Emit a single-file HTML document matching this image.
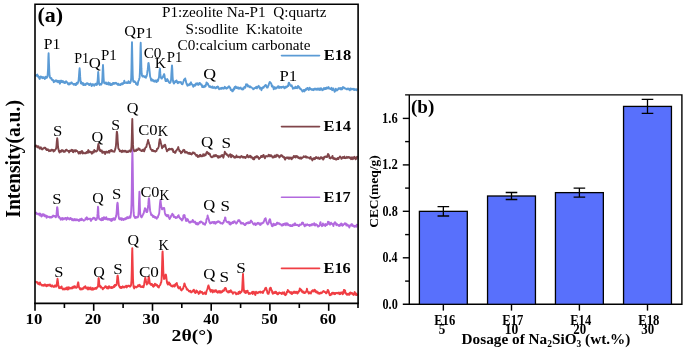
<!DOCTYPE html>
<html><head><meta charset="utf-8"><title>XRD and CEC</title>
<style>
html,body{margin:0;padding:0;background:#fff;}
body{width:685px;height:348px;overflow:hidden;font-family:"Liberation Serif",serif;}
svg{display:block;will-change:transform;opacity:0.999}
svg text{font-family:"Liberation Serif",serif;}
</style></head><body>
<svg width="685" height="348" viewBox="0 0 685 348" font-family="'Liberation Serif', serif">
<rect width="685" height="348" fill="#fff"/>
<path d="M35.5,282.4 L35.8,282.0 L36.1,281.8 L36.4,282.3 L36.7,282.4 L37.0,282.6 L37.3,282.3 L37.6,282.2 L37.9,283.9 L38.2,283.0 L38.5,284.1 L38.8,283.5 L39.1,284.2 L39.4,284.5 L39.7,284.0 L40.0,282.4 L40.3,283.4 L40.6,284.2 L40.9,284.1 L41.2,284.8 L41.5,284.8 L41.8,285.4 L42.1,285.0 L42.4,285.0 L42.7,285.5 L43.0,285.3 L43.3,284.9 L43.6,285.5 L43.9,285.8 L44.2,285.4 L44.5,284.5 L44.8,285.1 L45.1,285.4 L45.4,284.6 L45.7,285.4 L46.0,285.6 L46.3,286.2 L46.6,286.2 L46.9,285.0 L47.2,285.7 L47.5,285.5 L47.8,285.8 L48.1,284.7 L48.4,285.4 L48.7,285.4 L49.0,285.0 L49.3,285.0 L49.6,285.6 L49.9,284.5 L50.2,285.3 L50.5,286.0 L50.8,286.1 L51.1,285.6 L51.4,286.4 L51.7,285.8 L52.0,286.5 L52.3,285.3 L52.6,286.1 L52.9,286.3 L53.2,286.6 L53.5,286.6 L53.8,287.0 L54.1,286.4 L54.4,286.0 L54.7,285.6 L55.0,286.6 L55.3,285.5 L55.6,286.4 L55.9,285.7 L56.2,286.5 L56.5,286.5 L56.8,284.0 L57.1,281.7 L57.5,278.8 L57.7,280.0 L58.0,282.1 L58.3,284.7 L58.6,285.9 L58.9,287.3 L59.2,288.2 L59.5,287.7 L59.8,287.5 L60.1,287.1 L60.4,287.2 L60.7,287.1 L61.0,288.2 L61.3,287.8 L61.6,286.5 L61.9,287.6 L62.2,288.0 L62.5,288.9 L62.8,288.9 L63.1,289.5 L63.4,288.6 L63.7,288.8 L64.0,289.2 L64.3,288.9 L64.6,288.7 L64.9,289.4 L65.2,288.2 L65.5,288.3 L65.8,289.1 L66.1,288.4 L66.4,288.2 L66.7,287.6 L67.0,288.2 L67.3,289.5 L67.6,288.5 L67.9,287.5 L68.2,287.2 L68.5,289.4 L68.8,288.9 L69.1,287.8 L69.4,287.6 L69.7,288.1 L70.0,287.9 L70.3,288.3 L70.6,288.5 L70.9,288.5 L71.2,287.7 L71.5,288.3 L71.8,288.2 L72.1,288.4 L72.4,287.1 L72.7,287.7 L73.0,286.8 L73.3,287.7 L73.6,287.8 L73.9,287.3 L74.2,286.1 L74.5,286.6 L74.8,287.5 L75.1,286.3 L75.4,287.4 L75.7,287.2 L76.0,287.7 L76.3,287.7 L76.6,287.8 L76.9,287.4 L77.2,286.9 L77.5,285.2 L77.8,283.7 L78.2,282.3 L78.4,283.1 L78.7,285.3 L79.0,287.2 L79.3,287.7 L79.6,288.4 L79.9,289.0 L80.2,289.4 L80.5,288.8 L80.8,288.3 L81.1,289.2 L81.4,288.7 L81.7,288.6 L82.0,289.4 L82.3,289.0 L82.6,288.2 L82.9,288.3 L83.2,288.6 L83.5,288.8 L83.8,287.4 L84.1,286.9 L84.4,287.6 L84.7,287.2 L85.0,287.0 L85.3,286.2 L85.6,287.3 L85.9,287.4 L86.2,288.4 L86.5,287.9 L86.8,288.4 L87.1,287.6 L87.4,288.0 L87.7,287.6 L88.0,289.5 L88.3,288.9 L88.6,287.8 L88.9,287.4 L89.2,288.0 L89.5,288.3 L89.8,288.4 L90.1,289.4 L90.4,288.9 L90.7,287.5 L91.0,288.3 L91.3,289.0 L91.6,288.9 L91.9,289.8 L92.2,288.9 L92.5,289.6 L92.8,287.9 L93.1,288.9 L93.4,288.5 L93.7,289.4 L94.0,288.8 L94.3,288.6 L94.6,288.9 L94.9,288.5 L95.2,288.0 L95.5,288.7 L95.8,288.2 L96.1,288.7 L96.4,288.7 L96.7,287.4 L97.0,287.6 L97.3,287.5 L97.6,287.2 L97.9,286.0 L98.2,283.8 L98.5,278.6 L98.7,278.1 L99.1,281.4 L99.4,286.3 L99.7,286.0 L100.0,285.6 L100.3,286.6 L100.6,287.5 L100.9,286.3 L101.2,287.4 L101.5,287.3 L101.8,287.8 L102.1,287.8 L102.4,287.9 L102.7,289.4 L103.0,288.3 L103.3,288.6 L103.6,288.1 L103.9,288.3 L104.2,287.9 L104.5,287.5 L104.8,286.9 L105.1,287.2 L105.4,286.1 L105.7,287.0 L106.0,286.4 L106.3,287.6 L106.6,287.2 L106.9,288.2 L107.2,287.2 L107.5,287.1 L107.8,288.3 L108.1,288.6 L108.4,288.1 L108.7,287.7 L109.0,286.1 L109.3,287.1 L109.6,286.5 L109.9,287.1 L110.2,287.9 L110.5,287.8 L110.8,287.4 L111.1,287.3 L111.4,288.0 L111.7,287.0 L112.0,287.2 L112.3,287.9 L112.6,287.3 L112.9,287.5 L113.2,287.4 L113.5,286.9 L113.8,285.9 L114.1,286.3 L114.4,286.9 L114.7,285.0 L115.0,285.0 L115.3,285.4 L115.5,285.8 L115.9,285.1 L116.2,284.4 L116.5,284.9 L116.8,283.2 L117.1,280.1 L117.4,276.0 L117.7,275.6 L118.0,277.3 L118.3,280.3 L118.6,282.8 L118.9,285.6 L119.2,286.0 L119.5,286.6 L119.8,287.3 L120.1,287.3 L120.4,287.9 L120.7,286.8 L121.0,286.9 L121.3,287.0 L121.6,288.1 L121.9,287.5 L122.2,287.4 L122.5,287.2 L122.8,286.3 L123.1,286.9 L123.4,286.9 L123.7,287.2 L124.0,287.6 L124.3,286.7 L124.6,287.3 L124.9,286.7 L125.2,286.4 L125.5,286.9 L125.8,286.9 L126.1,285.8 L126.4,286.7 L126.7,287.4 L127.0,285.6 L127.3,286.3 L127.6,286.5 L127.9,286.3 L128.2,286.0 L128.5,286.0 L128.8,285.6 L129.1,285.9 L129.4,286.3 L129.7,285.9 L130.0,286.7 L130.3,285.6 L130.6,285.8 L130.9,285.8 L131.2,283.6 L131.5,280.3 L131.8,269.8 L132.1,254.1 L132.3,248.1 L132.7,265.8 L133.0,278.5 L133.3,284.5 L133.6,287.1 L133.9,287.7 L134.2,288.4 L134.5,287.5 L134.8,286.5 L135.1,287.2 L135.4,287.1 L135.7,287.2 L136.0,286.8 L136.3,287.4 L136.6,287.2 L136.9,286.8 L137.2,286.7 L137.5,286.7 L137.8,285.9 L138.1,285.1 L138.4,285.1 L138.7,286.2 L139.0,285.2 L139.3,285.2 L139.6,284.7 L139.9,285.4 L140.2,286.6 L140.5,286.9 L140.8,286.4 L141.1,286.4 L141.4,286.7 L141.7,286.7 L142.0,287.1 L142.3,286.6 L142.6,286.1 L142.9,286.1 L143.2,287.2 L143.5,287.3 L143.8,285.7 L144.1,285.1 L144.4,282.4 L144.7,280.7 L145.1,278.4 L145.3,277.5 L145.6,279.3 L145.9,280.8 L146.2,282.3 L146.5,282.8 L146.8,284.5 L147.0,283.8 L147.4,283.8 L147.7,283.6 L148.0,282.2 L148.3,280.0 L148.6,276.9 L148.9,276.9 L149.2,278.9 L149.5,281.1 L149.8,283.7 L150.1,283.8 L150.4,283.5 L150.7,284.9 L151.0,284.0 L151.3,284.1 L151.6,285.1 L151.9,284.0 L152.2,285.3 L152.5,285.3 L152.8,286.1 L153.1,285.0 L153.4,286.8 L153.7,285.8 L154.0,286.3 L154.3,285.1 L154.6,285.6 L154.9,283.6 L155.2,284.0 L155.5,284.7 L155.8,285.1 L156.1,285.1 L156.4,285.5 L156.7,284.6 L157.0,285.0 L157.3,285.3 L157.6,286.3 L157.9,286.9 L158.2,286.4 L158.5,286.3 L158.8,287.5 L159.1,286.2 L159.4,285.8 L159.7,285.7 L160.0,285.1 L160.3,284.8 L160.6,283.9 L160.9,282.7 L161.2,282.4 L161.5,280.1 L161.8,274.3 L162.1,264.9 L162.4,253.8 L162.6,251.4 L163.0,260.1 L163.3,270.9 L163.6,275.5 L164.0,279.0 L164.2,277.9 L164.5,278.7 L164.8,277.1 L165.1,275.7 L165.4,275.1 L165.8,274.5 L166.0,274.9 L166.3,277.0 L166.6,279.5 L166.9,281.8 L167.2,283.2 L167.5,283.6 L167.8,284.6 L168.1,283.3 L168.4,283.3 L168.7,283.2 L169.0,282.3 L169.3,282.9 L169.6,284.8 L169.9,283.4 L170.2,284.0 L170.5,284.9 L170.8,285.4 L171.1,285.9 L171.4,286.0 L171.7,286.2 L172.0,285.4 L172.3,286.1 L172.6,286.6 L172.9,286.0 L173.2,286.0 L173.5,285.5 L173.8,285.6 L174.1,285.0 L174.4,286.6 L174.7,286.4 L175.0,286.1 L175.3,284.8 L175.6,283.9 L175.9,284.0 L176.2,283.9 L176.6,283.1 L176.8,283.0 L177.1,284.8 L177.4,286.0 L177.7,285.7 L178.0,287.6 L178.3,287.6 L178.6,288.3 L178.9,288.3 L179.2,287.3 L179.5,287.7 L179.8,287.5 L180.1,287.1 L180.4,288.8 L180.7,289.8 L181.0,289.7 L181.3,289.8 L181.6,290.4 L181.9,289.5 L182.2,289.4 L182.5,288.9 L182.8,288.8 L183.1,288.8 L183.4,287.2 L183.7,286.2 L184.0,285.7 L184.3,283.7 L184.5,283.5 L184.9,284.6 L185.2,286.2 L185.5,286.2 L185.8,286.8 L186.1,287.5 L186.4,287.8 L186.7,289.2 L187.0,289.7 L187.3,289.8 L187.6,289.3 L187.9,289.9 L188.2,290.3 L188.5,290.5 L188.8,291.2 L189.1,291.1 L189.4,291.4 L189.7,291.1 L190.0,290.9 L190.3,290.7 L190.6,291.9 L190.9,291.7 L191.2,292.4 L191.5,291.9 L191.8,292.1 L192.1,291.4 L192.4,291.3 L192.7,290.8 L193.0,290.4 L193.3,290.7 L193.6,291.3 L193.9,289.8 L194.2,291.0 L194.5,291.5 L194.8,292.3 L195.1,292.7 L195.4,293.1 L195.7,292.4 L196.0,292.5 L196.3,290.5 L196.6,290.6 L196.9,290.9 L197.2,291.2 L197.5,292.2 L197.8,292.0 L198.1,292.5 L198.4,293.0 L198.7,293.9 L199.0,292.3 L199.3,293.0 L199.6,293.2 L199.9,291.3 L200.2,292.5 L200.5,291.3 L200.8,291.7 L201.1,291.7 L201.4,291.9 L201.7,292.5 L202.0,291.9 L202.3,293.1 L202.6,293.0 L202.9,294.1 L203.2,293.1 L203.5,293.7 L203.8,292.9 L204.1,292.9 L204.4,293.5 L204.7,292.5 L205.0,293.3 L205.3,293.4 L205.6,293.9 L205.9,294.2 L206.2,292.7 L206.5,291.6 L206.8,290.3 L207.1,289.7 L207.4,289.3 L207.7,287.9 L208.0,286.6 L208.3,285.7 L208.5,285.4 L208.9,286.9 L209.2,287.6 L209.5,288.3 L209.8,289.8 L210.1,289.4 L210.4,290.9 L210.7,291.8 L211.0,290.3 L211.3,290.8 L211.6,290.6 L211.9,289.9 L212.2,291.0 L212.5,291.5 L212.8,292.4 L213.1,291.8 L213.4,290.4 L213.7,291.6 L214.0,290.6 L214.3,291.6 L214.6,291.8 L214.9,291.5 L215.2,290.3 L215.5,290.3 L215.8,290.7 L216.1,290.3 L216.4,290.7 L216.7,292.0 L217.0,291.6 L217.3,292.3 L217.6,292.7 L217.9,292.6 L218.2,291.4 L218.5,291.2 L218.8,291.2 L219.1,290.9 L219.4,292.5 L219.7,292.4 L220.0,292.2 L220.3,291.1 L220.6,291.1 L220.9,292.7 L221.2,291.9 L221.5,291.7 L221.8,291.3 L222.1,291.2 L222.4,291.9 L222.7,290.6 L223.0,290.4 L223.3,291.0 L223.6,290.9 L223.9,290.4 L224.2,290.5 L224.5,288.7 L224.8,288.5 L225.1,287.9 L225.4,288.0 L225.7,288.1 L226.0,289.2 L226.3,289.9 L226.6,291.3 L226.9,291.2 L227.2,291.6 L227.5,291.5 L227.8,291.6 L228.1,292.6 L228.4,291.5 L228.7,292.0 L229.0,290.9 L229.3,292.2 L229.6,291.9 L229.9,291.9 L230.2,291.2 L230.5,290.5 L230.8,290.3 L231.1,291.7 L231.4,291.0 L231.7,292.4 L232.0,292.0 L232.3,292.4 L232.6,292.7 L232.9,293.8 L233.2,292.9 L233.5,292.7 L233.8,292.3 L234.1,292.4 L234.4,292.4 L234.7,292.3 L235.0,292.6 L235.3,292.4 L235.6,293.2 L235.9,293.7 L236.2,294.3 L236.5,293.4 L236.8,293.2 L237.1,293.9 L237.4,293.7 L237.7,293.7 L238.0,293.3 L238.3,293.9 L238.6,292.0 L238.9,293.2 L239.2,292.2 L239.5,293.4 L239.8,291.5 L240.1,293.3 L240.4,292.4 L240.7,292.4 L241.0,292.3 L241.3,292.0 L241.6,291.6 L241.9,290.9 L242.2,288.6 L242.5,282.5 L242.8,276.7 L243.0,273.9 L243.4,282.0 L243.7,288.3 L244.0,290.8 L244.3,292.0 L244.6,292.4 L244.9,291.3 L245.2,291.1 L245.5,292.6 L245.8,293.1 L246.1,292.4 L246.4,291.8 L246.7,291.0 L247.0,292.0 L247.3,292.0 L247.6,290.6 L247.9,292.5 L248.2,292.4 L248.5,293.1 L248.8,293.9 L249.1,293.5 L249.4,293.8 L249.7,293.1 L250.0,293.6 L250.3,293.7 L250.6,293.5 L250.9,293.3 L251.2,293.1 L251.5,293.1 L251.8,292.5 L252.1,291.9 L252.4,292.4 L252.7,294.0 L253.0,291.7 L253.3,292.4 L253.6,291.9 L253.9,291.8 L254.2,293.3 L254.5,292.8 L254.8,293.2 L255.1,294.7 L255.4,294.9 L255.7,292.6 L256.0,291.7 L256.3,292.2 L256.6,292.8 L256.9,292.7 L257.2,293.0 L257.5,292.8 L257.8,293.2 L258.1,292.1 L258.4,292.4 L258.7,292.5 L259.0,292.1 L259.3,292.3 L259.6,292.1 L259.9,292.0 L260.2,291.5 L260.5,292.7 L260.8,292.4 L261.1,292.2 L261.4,292.1 L261.7,292.4 L262.0,291.9 L262.3,292.0 L262.6,291.6 L262.9,293.0 L263.2,292.5 L263.5,291.2 L263.8,291.2 L264.1,290.5 L264.4,290.3 L264.7,290.0 L265.0,288.9 L265.3,288.2 L265.6,288.1 L266.0,287.7 L266.2,288.4 L266.5,289.1 L266.8,290.4 L267.1,291.2 L267.4,293.0 L267.7,293.2 L268.0,293.8 L268.3,293.0 L268.6,293.8 L268.9,292.1 L269.2,292.4 L269.5,290.5 L269.8,288.4 L270.1,288.4 L270.4,287.6 L270.7,287.6 L271.0,288.5 L271.3,290.2 L271.6,290.2 L271.9,290.3 L272.2,292.6 L272.5,292.7 L272.8,293.8 L273.1,293.3 L273.4,292.6 L273.7,293.3 L274.0,292.3 L274.3,293.0 L274.6,292.7 L274.9,293.0 L275.2,291.8 L275.5,291.9 L275.8,291.7 L276.1,291.8 L276.4,293.3 L276.7,292.7 L277.0,292.8 L277.3,294.2 L277.6,294.3 L277.9,293.9 L278.2,294.2 L278.5,293.0 L278.8,293.5 L279.1,292.5 L279.4,292.5 L279.7,292.7 L280.0,292.7 L280.3,293.1 L280.6,292.9 L280.9,292.9 L281.2,293.6 L281.5,293.4 L281.8,293.9 L282.1,293.2 L282.4,292.4 L282.7,292.7 L283.0,293.4 L283.3,293.1 L283.6,293.1 L283.9,293.8 L284.2,292.3 L284.5,293.2 L284.8,294.7 L285.1,294.9 L285.4,295.2 L285.7,294.8 L286.0,294.5 L286.3,294.4 L286.6,293.0 L286.9,291.7 L287.2,292.4 L287.5,291.5 L287.8,289.9 L288.1,290.6 L288.4,290.8 L288.7,290.9 L289.0,291.9 L289.3,291.8 L289.6,291.9 L289.9,292.3 L290.2,293.0 L290.5,293.2 L290.8,292.5 L291.1,292.0 L291.4,292.7 L291.7,293.2 L292.0,294.1 L292.3,292.8 L292.6,292.4 L292.9,292.7 L293.2,293.0 L293.5,292.0 L293.8,292.0 L294.1,291.5 L294.4,292.9 L294.7,292.6 L295.0,292.7 L295.3,292.3 L295.6,292.9 L295.9,291.8 L296.2,291.8 L296.5,292.7 L296.8,292.8 L297.1,293.2 L297.4,293.5 L297.7,292.1 L298.0,291.9 L298.3,292.7 L298.6,291.1 L298.9,291.1 L299.2,291.4 L299.5,290.3 L299.8,288.5 L300.1,289.4 L300.5,288.9 L300.7,289.8 L301.0,290.1 L301.3,290.8 L301.6,290.1 L301.9,291.4 L302.2,292.2 L302.5,292.3 L302.8,291.4 L303.1,292.6 L303.4,292.3 L303.7,291.7 L304.0,293.0 L304.3,293.0 L304.6,293.0 L304.9,292.9 L305.2,292.4 L305.5,292.7 L305.8,292.3 L306.1,291.3 L306.4,291.3 L306.7,290.7 L306.9,288.8 L307.3,290.5 L307.6,291.4 L307.9,291.5 L308.2,292.6 L308.5,292.9 L308.8,293.5 L309.1,293.4 L309.4,293.2 L309.7,292.2 L310.0,292.4 L310.3,292.7 L310.6,292.3 L310.9,293.5 L311.2,291.9 L311.5,291.5 L311.8,290.9 L312.1,291.5 L312.4,290.9 L312.7,290.2 L313.0,290.9 L313.3,291.5 L313.6,290.9 L313.9,291.2 L314.2,291.2 L314.5,289.7 L314.8,290.5 L315.1,290.1 L315.4,291.8 L315.7,292.0 L316.0,291.2 L316.3,292.5 L316.6,292.5 L316.9,291.5 L317.2,292.1 L317.5,291.9 L317.8,292.3 L318.1,293.5 L318.4,293.5 L318.7,292.8 L319.0,293.3 L319.3,292.9 L319.6,293.8 L319.9,293.7 L320.2,293.0 L320.5,292.8 L320.8,292.6 L321.1,293.3 L321.4,293.2 L321.7,292.8 L322.0,292.8 L322.3,292.1 L322.6,291.7 L322.9,291.6 L323.2,291.2 L323.5,291.0 L323.8,291.2 L324.1,291.7 L324.4,292.1 L324.7,291.7 L325.0,291.8 L325.3,292.1 L325.6,292.4 L325.9,293.2 L326.2,292.9 L326.5,293.3 L326.8,292.4 L327.1,291.4 L327.4,291.9 L327.7,289.9 L328.0,289.9 L328.2,290.6 L328.6,291.1 L328.9,292.0 L329.2,293.9 L329.5,294.0 L329.8,295.2 L330.1,295.3 L330.4,295.1 L330.7,294.3 L331.0,294.1 L331.3,293.7 L331.6,294.6 L331.9,292.9 L332.2,293.7 L332.5,292.7 L332.8,293.3 L333.1,292.9 L333.4,292.7 L333.7,292.9 L334.0,294.1 L334.3,293.8 L334.6,293.1 L334.9,294.2 L335.2,294.1 L335.5,292.9 L335.8,292.9 L336.1,293.0 L336.4,292.9 L336.7,293.2 L337.0,292.8 L337.3,292.9 L337.6,293.4 L337.9,293.4 L338.2,292.7 L338.5,293.6 L338.8,292.9 L339.1,292.6 L339.4,293.1 L339.7,294.2 L340.0,293.2 L340.3,294.1 L340.6,293.4 L340.9,292.6 L341.2,292.4 L341.5,292.7 L341.8,293.1 L342.1,293.5 L342.4,292.3 L342.7,294.3 L343.0,293.0 L343.3,293.5 L343.6,291.8 L343.9,290.0 L344.3,289.9 L344.5,291.0 L344.8,290.5 L345.1,290.4 L345.4,293.0 L345.7,293.6 L346.0,293.1 L346.3,294.0 L346.6,293.5 L346.9,294.9 L347.2,294.8 L347.5,294.7 L347.8,294.1 L348.1,293.8 L348.4,293.8 L348.7,294.6 L349.0,294.9 L349.3,294.8 L349.6,293.6 L349.9,292.7 L350.2,293.9 L350.5,292.4 L350.8,293.2 L351.1,293.2 L351.4,293.6 L351.7,292.9 L352.0,293.0 L352.3,293.8 L352.6,294.2 L352.9,294.1 L353.2,294.1 L353.5,294.9 L353.8,293.7 L354.1,293.2 L354.4,292.6 L354.7,292.0 L355.0,292.7 L355.3,294.7 L355.6,293.6 L355.9,293.5 L356.2,294.3 L356.5,294.9 L356.8,295.1 L357.1,293.7 L357.4,293.6" fill="none" stroke="#F03E44" stroke-width="1.9" stroke-linejoin="round"/>
<path d="M35.5,212.3 L35.8,212.9 L36.1,212.6 L36.4,213.1 L36.7,213.9 L37.0,213.6 L37.3,213.6 L37.6,213.6 L37.9,213.8 L38.2,214.4 L38.5,214.2 L38.8,213.8 L39.1,214.6 L39.4,213.7 L39.7,213.6 L40.0,215.5 L40.3,213.8 L40.6,215.0 L40.9,214.3 L41.2,215.6 L41.5,216.5 L41.8,216.3 L42.1,215.5 L42.4,215.2 L42.7,214.1 L43.0,214.2 L43.3,215.2 L43.6,215.5 L43.9,214.5 L44.2,215.8 L44.5,215.7 L44.8,216.2 L45.1,215.2 L45.4,216.3 L45.7,216.3 L46.0,216.5 L46.3,215.7 L46.6,217.8 L46.9,217.2 L47.2,216.3 L47.5,216.3 L47.8,216.6 L48.1,216.7 L48.4,216.8 L48.7,217.1 L49.0,216.8 L49.3,216.8 L49.6,217.4 L49.9,217.6 L50.2,217.0 L50.5,217.0 L50.8,217.6 L51.1,217.0 L51.4,216.8 L51.7,217.4 L52.0,216.7 L52.3,217.0 L52.6,216.2 L52.9,215.8 L53.2,215.6 L53.5,216.2 L53.8,216.3 L54.1,215.9 L54.4,216.1 L54.7,216.2 L55.0,216.4 L55.3,216.2 L55.6,217.3 L55.9,217.3 L56.2,215.9 L56.5,214.7 L56.8,211.1 L57.1,207.3 L57.3,207.2 L57.7,209.7 L58.0,214.0 L58.3,216.8 L58.6,216.9 L58.9,217.5 L59.2,216.7 L59.5,217.7 L59.8,218.0 L60.1,218.5 L60.4,218.8 L60.7,219.7 L61.0,219.1 L61.3,218.1 L61.6,218.4 L61.9,219.4 L62.2,219.7 L62.5,219.5 L62.8,218.0 L63.1,218.6 L63.4,219.4 L63.7,219.4 L64.0,218.8 L64.3,218.5 L64.6,218.8 L64.9,218.2 L65.2,217.9 L65.5,218.5 L65.8,217.9 L66.1,218.7 L66.4,219.8 L66.7,218.6 L67.0,219.0 L67.3,218.2 L67.6,217.5 L67.9,218.5 L68.2,218.9 L68.5,218.8 L68.8,218.5 L69.1,218.8 L69.4,219.5 L69.7,218.6 L70.0,219.2 L70.3,218.0 L70.6,218.9 L70.9,218.9 L71.2,219.0 L71.5,218.5 L71.8,218.7 L72.1,220.2 L72.4,219.8 L72.7,219.3 L73.0,220.1 L73.3,220.4 L73.6,219.8 L73.9,220.1 L74.2,219.5 L74.5,219.0 L74.8,219.3 L75.1,220.4 L75.4,219.5 L75.7,219.8 L76.0,219.2 L76.3,219.3 L76.6,219.7 L76.9,220.3 L77.2,219.5 L77.5,219.7 L77.8,219.7 L78.1,219.8 L78.4,220.4 L78.7,220.0 L79.0,221.0 L79.3,220.2 L79.6,220.6 L79.9,219.3 L80.2,219.5 L80.5,219.2 L80.8,219.4 L81.1,220.2 L81.4,218.9 L81.7,218.6 L82.0,219.6 L82.3,219.8 L82.6,219.6 L82.9,219.9 L83.2,220.1 L83.5,220.6 L83.8,220.7 L84.1,220.5 L84.4,220.1 L84.7,220.2 L85.0,219.9 L85.3,219.5 L85.6,218.3 L85.9,219.4 L86.2,218.1 L86.5,218.1 L86.8,217.3 L87.1,218.6 L87.4,219.5 L87.7,218.9 L88.0,218.5 L88.3,219.1 L88.6,219.0 L88.9,218.9 L89.2,218.9 L89.5,218.8 L89.8,218.9 L90.1,218.6 L90.4,219.8 L90.7,220.3 L91.0,221.0 L91.3,220.0 L91.6,219.4 L91.9,218.9 L92.2,219.2 L92.5,219.2 L92.8,218.5 L93.1,218.0 L93.4,217.7 L93.7,217.9 L94.0,217.8 L94.3,218.6 L94.6,218.1 L94.9,218.4 L95.2,218.7 L95.5,220.0 L95.8,218.8 L96.1,219.2 L96.4,219.8 L96.7,219.2 L97.0,218.2 L97.3,216.7 L97.6,213.4 L98.0,206.8 L98.2,208.0 L98.5,214.4 L98.8,217.2 L99.1,218.3 L99.4,219.1 L99.7,219.3 L100.0,218.8 L100.3,219.6 L100.6,219.5 L100.9,220.0 L101.2,219.3 L101.5,220.3 L101.8,220.1 L102.1,217.9 L102.4,219.1 L102.7,218.5 L103.0,220.0 L103.3,218.6 L103.6,217.9 L103.9,217.2 L104.2,218.0 L104.5,218.9 L104.8,217.7 L105.1,218.7 L105.4,218.7 L105.7,218.4 L106.0,219.2 L106.3,217.3 L106.6,218.3 L106.9,218.7 L107.2,219.5 L107.5,218.8 L107.8,219.6 L108.1,219.4 L108.4,218.9 L108.7,218.8 L109.0,219.6 L109.3,219.7 L109.6,219.1 L109.9,219.4 L110.2,219.9 L110.5,219.8 L110.8,220.6 L111.1,219.0 L111.4,220.3 L111.7,221.0 L112.0,220.0 L112.3,220.2 L112.6,218.6 L112.9,219.2 L113.2,218.7 L113.5,218.3 L113.8,219.6 L114.1,219.8 L114.4,218.5 L114.7,219.1 L115.0,219.7 L115.3,218.5 L115.6,217.4 L115.9,217.1 L116.2,215.8 L116.5,214.0 L116.8,210.0 L117.1,204.9 L117.5,202.7 L117.7,203.3 L118.0,207.3 L118.3,212.6 L118.6,215.9 L118.9,218.1 L119.2,218.9 L119.5,218.4 L119.8,219.4 L120.1,219.0 L120.4,218.6 L120.7,218.7 L121.0,218.1 L121.3,219.5 L121.6,219.9 L121.9,219.0 L122.2,218.5 L122.5,219.1 L122.8,218.7 L123.1,219.6 L123.4,220.0 L123.7,219.4 L124.0,219.0 L124.3,219.2 L124.6,219.0 L124.9,219.4 L125.2,218.3 L125.5,218.9 L125.8,218.7 L126.1,218.9 L126.4,217.8 L126.7,218.2 L127.0,217.8 L127.3,217.1 L127.6,218.0 L127.9,218.3 L128.2,217.8 L128.5,217.6 L128.8,218.1 L129.1,217.5 L129.4,216.5 L129.7,217.4 L130.0,217.1 L130.3,217.7 L130.6,216.5 L130.9,213.9 L131.2,210.8 L131.5,203.9 L131.8,188.4 L132.1,163.7 L132.4,149.6 L132.7,163.6 L133.0,187.2 L133.3,204.0 L133.6,212.2 L133.9,215.9 L134.2,215.8 L134.5,216.6 L134.8,217.9 L135.1,217.4 L135.4,217.0 L135.7,217.9 L136.0,217.7 L136.3,217.3 L136.6,217.0 L136.9,217.4 L137.2,217.2 L137.5,217.0 L137.8,217.3 L138.1,216.7 L138.4,214.8 L138.7,211.1 L139.0,202.5 L139.4,191.8 L139.6,195.5 L139.9,206.9 L140.2,213.5 L140.5,214.9 L140.8,216.5 L141.1,216.8 L141.4,217.1 L141.7,217.4 L142.0,215.8 L142.3,216.1 L142.6,215.4 L142.9,214.8 L143.2,213.9 L143.5,213.8 L143.8,212.9 L144.1,211.4 L144.4,210.2 L144.7,209.2 L145.0,208.1 L145.3,208.8 L145.6,208.7 L145.9,210.3 L146.2,211.3 L146.5,212.1 L146.8,210.9 L147.1,212.0 L147.4,211.4 L147.7,209.2 L148.0,206.9 L148.3,204.4 L148.6,200.2 L148.9,198.1 L149.2,199.8 L149.5,204.0 L149.8,207.5 L150.1,210.4 L150.4,211.8 L150.7,212.8 L151.0,214.3 L151.3,215.1 L151.6,214.4 L151.9,214.7 L152.2,215.4 L152.5,215.3 L152.8,216.8 L153.1,216.5 L153.4,217.0 L153.7,216.0 L154.0,216.3 L154.3,216.6 L154.6,216.6 L154.9,217.7 L155.2,217.8 L155.5,217.1 L155.8,217.3 L156.1,217.9 L156.4,217.8 L156.7,218.7 L157.0,217.4 L157.3,217.2 L157.6,217.6 L157.9,217.3 L158.2,215.7 L158.5,215.5 L158.8,214.4 L159.1,213.8 L159.4,211.5 L159.7,207.1 L160.0,203.4 L160.4,200.2 L160.6,200.6 L160.9,203.5 L161.2,206.0 L161.5,207.6 L161.8,208.2 L162.0,209.4 L162.4,209.3 L162.7,208.3 L163.0,208.6 L163.3,208.2 L163.6,207.9 L163.9,208.2 L164.2,208.1 L164.5,210.0 L164.8,212.4 L165.1,213.5 L165.4,214.7 L165.7,214.4 L166.0,215.6 L166.3,215.2 L166.6,215.2 L166.9,216.3 L167.2,215.0 L167.5,215.5 L167.8,215.6 L168.1,216.1 L168.4,215.2 L168.7,217.3 L169.0,218.0 L169.3,218.0 L169.6,219.0 L169.9,218.5 L170.2,217.9 L170.5,217.3 L170.8,217.1 L171.1,215.8 L171.4,215.6 L171.7,214.9 L172.0,215.4 L172.3,213.6 L172.6,215.0 L172.9,214.4 L173.2,214.9 L173.5,214.9 L173.8,217.1 L174.1,216.5 L174.4,217.1 L174.7,216.8 L175.0,217.4 L175.3,217.3 L175.6,218.0 L175.9,217.1 L176.2,217.9 L176.5,217.7 L176.8,217.7 L177.1,217.1 L177.4,217.4 L177.7,216.8 L178.0,215.7 L178.4,215.6 L178.6,215.2 L178.9,216.8 L179.2,216.8 L179.5,217.6 L179.8,218.2 L180.1,218.2 L180.4,218.2 L180.7,219.3 L181.0,219.3 L181.3,219.1 L181.6,219.6 L181.9,220.5 L182.2,219.5 L182.5,219.8 L182.8,219.3 L183.1,218.3 L183.4,215.4 L183.7,216.0 L184.0,215.0 L184.3,215.2 L184.6,215.2 L184.9,216.8 L185.2,217.9 L185.5,217.9 L185.8,220.1 L186.1,221.0 L186.4,220.7 L186.7,220.2 L187.0,219.6 L187.3,219.0 L187.6,220.5 L187.9,219.5 L188.2,220.3 L188.5,221.3 L188.8,221.4 L189.1,222.0 L189.4,222.6 L189.7,221.9 L190.0,222.2 L190.3,222.5 L190.6,222.5 L190.9,221.6 L191.2,221.7 L191.5,221.5 L191.8,221.4 L192.1,221.8 L192.4,221.5 L192.7,220.0 L193.0,220.3 L193.3,221.8 L193.6,221.5 L193.9,221.9 L194.2,222.4 L194.5,222.3 L194.8,222.5 L195.1,221.6 L195.4,222.2 L195.7,223.4 L196.0,223.9 L196.3,224.1 L196.6,224.0 L196.9,223.0 L197.2,224.5 L197.5,223.7 L197.8,223.4 L198.1,223.6 L198.4,224.3 L198.7,223.2 L199.0,223.1 L199.3,222.8 L199.6,222.0 L199.9,222.2 L200.2,222.7 L200.5,222.1 L200.8,221.5 L201.1,221.4 L201.4,221.9 L201.7,222.2 L202.0,222.1 L202.3,222.5 L202.6,222.4 L202.9,223.8 L203.2,223.3 L203.5,223.2 L203.8,224.1 L204.1,224.4 L204.4,224.3 L204.7,223.7 L205.0,224.8 L205.3,223.4 L205.6,222.8 L205.9,223.0 L206.2,221.8 L206.5,219.2 L206.8,218.8 L207.1,218.0 L207.4,217.1 L207.6,215.5 L208.0,217.2 L208.3,217.8 L208.6,219.2 L208.9,219.9 L209.2,221.3 L209.5,222.4 L209.8,222.7 L210.1,223.5 L210.4,222.8 L210.7,223.3 L211.0,222.5 L211.3,223.1 L211.6,222.9 L211.9,222.2 L212.2,222.2 L212.5,222.3 L212.8,221.9 L213.1,222.5 L213.4,222.1 L213.7,222.6 L214.0,223.3 L214.3,222.0 L214.6,222.9 L214.9,222.1 L215.2,223.3 L215.5,223.7 L215.8,222.7 L216.1,222.5 L216.4,222.1 L216.7,222.7 L217.0,222.3 L217.3,221.8 L217.6,221.5 L217.9,221.5 L218.2,222.0 L218.5,221.3 L218.8,221.4 L219.1,221.6 L219.4,221.6 L219.7,222.1 L220.0,222.2 L220.3,223.3 L220.6,222.9 L220.9,223.4 L221.2,223.3 L221.5,223.4 L221.8,223.4 L222.1,222.9 L222.4,223.8 L222.7,223.0 L223.0,223.1 L223.3,222.4 L223.6,222.5 L223.9,220.7 L224.2,220.4 L224.5,220.3 L224.8,219.3 L225.1,217.4 L225.4,217.7 L225.7,220.2 L226.0,220.6 L226.3,221.2 L226.6,221.8 L226.9,221.7 L227.2,221.9 L227.5,222.3 L227.8,222.4 L228.1,222.4 L228.4,222.6 L228.7,221.7 L229.0,222.0 L229.3,223.2 L229.6,224.3 L229.9,223.2 L230.2,222.5 L230.5,224.5 L230.8,223.8 L231.1,223.9 L231.4,223.2 L231.7,223.1 L232.0,222.4 L232.3,223.2 L232.6,221.9 L232.9,222.2 L233.2,223.1 L233.5,222.1 L233.8,222.3 L234.1,221.3 L234.4,221.7 L234.7,221.3 L235.0,222.4 L235.3,222.4 L235.6,222.8 L235.9,223.0 L236.2,223.7 L236.5,222.8 L236.8,223.1 L237.1,222.5 L237.4,221.7 L237.7,221.2 L238.0,221.1 L238.3,220.1 L238.6,220.6 L239.0,220.2 L239.2,221.3 L239.5,220.3 L239.8,221.0 L240.1,221.9 L240.4,222.1 L240.7,223.0 L241.0,223.6 L241.3,222.9 L241.6,222.6 L241.9,223.5 L242.2,223.2 L242.5,223.1 L242.8,223.3 L243.1,222.9 L243.4,223.7 L243.7,224.2 L244.0,224.2 L244.3,224.2 L244.6,224.9 L244.9,224.4 L245.2,225.1 L245.5,223.6 L245.8,224.4 L246.1,223.2 L246.4,223.0 L246.7,223.2 L247.0,223.3 L247.3,222.6 L247.6,222.6 L247.9,223.1 L248.2,222.2 L248.5,223.4 L248.8,222.7 L249.1,222.6 L249.4,223.0 L249.7,222.6 L250.0,222.9 L250.3,221.8 L250.6,221.1 L251.0,220.5 L251.2,221.5 L251.5,221.8 L251.8,221.6 L252.1,221.8 L252.4,222.5 L252.7,223.2 L253.0,223.8 L253.3,224.0 L253.6,223.9 L253.9,224.6 L254.2,223.9 L254.5,223.5 L254.8,223.2 L255.1,224.0 L255.4,224.5 L255.7,225.0 L256.0,223.7 L256.3,223.8 L256.6,224.4 L256.9,224.0 L257.2,223.6 L257.5,223.0 L257.8,223.3 L258.1,222.8 L258.4,223.1 L258.7,223.9 L259.0,223.9 L259.3,223.3 L259.6,223.4 L259.9,224.7 L260.2,224.9 L260.5,224.4 L260.8,224.7 L261.1,223.2 L261.4,223.9 L261.7,223.3 L262.0,223.6 L262.3,223.3 L262.6,223.2 L262.9,222.6 L263.2,222.5 L263.5,222.7 L263.8,221.2 L264.1,221.2 L264.4,220.4 L264.7,218.9 L265.0,219.2 L265.4,219.4 L265.6,218.1 L265.9,219.5 L266.2,220.8 L266.5,221.8 L266.8,222.9 L267.1,223.3 L267.4,224.0 L267.7,224.4 L268.0,223.6 L268.3,223.9 L268.6,222.8 L268.9,222.5 L269.2,220.1 L269.5,220.6 L269.8,219.2 L270.1,219.5 L270.4,220.8 L270.7,222.1 L271.0,223.4 L271.3,223.8 L271.6,225.0 L271.9,226.1 L272.2,225.8 L272.5,226.2 L272.8,226.2 L273.1,224.2 L273.4,223.8 L273.7,225.0 L274.0,223.8 L274.3,224.3 L274.6,225.2 L274.9,224.5 L275.2,224.9 L275.5,224.7 L275.8,224.9 L276.1,223.7 L276.4,224.5 L276.7,223.7 L277.0,222.6 L277.3,223.2 L277.6,222.7 L277.9,223.9 L278.2,223.1 L278.5,223.2 L278.8,223.4 L279.1,223.3 L279.4,223.4 L279.7,224.3 L280.0,224.0 L280.3,224.1 L280.6,224.3 L280.9,224.3 L281.2,224.6 L281.5,225.5 L281.8,225.2 L282.1,225.0 L282.4,224.6 L282.7,225.4 L283.0,224.9 L283.3,223.9 L283.6,224.1 L283.9,224.9 L284.2,224.1 L284.5,224.2 L284.8,223.6 L285.1,224.4 L285.4,224.0 L285.7,223.6 L286.0,225.2 L286.3,223.4 L286.6,223.2 L286.9,223.8 L287.2,223.8 L287.5,223.5 L287.8,223.6 L288.1,225.2 L288.4,224.9 L288.7,224.7 L289.0,225.0 L289.3,225.4 L289.6,225.7 L289.9,225.6 L290.2,225.9 L290.5,225.1 L290.8,225.7 L291.1,226.0 L291.4,225.7 L291.7,225.7 L292.0,225.2 L292.3,226.1 L292.6,224.7 L292.9,224.6 L293.2,225.3 L293.5,225.0 L293.8,224.1 L294.1,224.1 L294.4,225.2 L294.7,223.8 L295.0,223.3 L295.3,223.7 L295.6,225.1 L295.9,224.8 L296.2,225.0 L296.5,224.9 L296.8,224.8 L297.1,224.7 L297.4,225.1 L297.7,224.9 L298.0,224.9 L298.3,225.7 L298.6,226.0 L298.9,226.1 L299.2,225.7 L299.5,225.5 L299.8,224.6 L300.1,225.0 L300.4,224.8 L300.7,224.6 L301.0,224.5 L301.3,224.6 L301.6,224.2 L301.9,222.9 L302.2,222.5 L302.5,223.2 L302.8,223.2 L303.1,222.7 L303.4,224.2 L303.7,224.5 L304.0,224.5 L304.3,225.4 L304.6,226.3 L304.9,226.0 L305.2,225.0 L305.5,224.6 L305.8,224.9 L306.1,225.5 L306.4,225.0 L306.7,224.6 L307.0,224.3 L307.3,224.3 L307.6,224.8 L307.9,224.9 L308.2,225.1 L308.5,225.0 L308.8,224.9 L309.1,225.1 L309.4,225.8 L309.7,225.9 L310.0,224.6 L310.3,224.6 L310.6,225.3 L310.9,225.2 L311.2,224.8 L311.5,224.7 L311.8,225.3 L312.1,223.9 L312.4,224.3 L312.7,224.4 L313.0,224.6 L313.3,224.6 L313.6,224.2 L313.9,224.8 L314.2,223.3 L314.5,225.3 L314.8,224.5 L315.1,225.5 L315.4,224.2 L315.7,224.7 L316.0,224.6 L316.3,224.3 L316.6,224.9 L316.9,224.9 L317.2,224.9 L317.5,226.0 L317.8,225.7 L318.1,226.7 L318.4,226.4 L318.7,226.0 L319.0,225.8 L319.3,226.0 L319.6,225.1 L319.9,224.3 L320.2,222.9 L320.5,222.2 L320.8,223.8 L321.1,224.9 L321.4,225.1 L321.7,225.4 L322.0,226.2 L322.3,224.9 L322.6,225.3 L322.9,223.5 L323.2,225.4 L323.5,224.2 L323.8,224.4 L324.1,224.8 L324.4,225.2 L324.7,224.6 L325.0,224.5 L325.3,226.0 L325.6,224.7 L325.9,224.0 L326.2,225.0 L326.5,225.1 L326.8,224.9 L327.1,224.7 L327.4,224.2 L327.7,223.2 L328.0,221.8 L328.3,222.0 L328.6,222.5 L328.9,222.1 L329.2,224.0 L329.5,224.4 L329.8,223.7 L330.1,224.0 L330.4,224.4 L330.7,223.3 L331.0,222.7 L331.3,223.8 L331.6,223.3 L331.9,223.9 L332.2,223.9 L332.5,223.9 L332.8,224.8 L333.1,224.2 L333.4,226.1 L333.7,223.8 L334.0,223.2 L334.3,223.3 L334.6,223.7 L334.9,222.3 L335.2,222.3 L335.5,222.7 L335.8,223.1 L336.1,224.3 L336.4,225.2 L336.7,224.5 L337.0,224.1 L337.3,224.4 L337.6,224.7 L337.9,224.6 L338.2,225.0 L338.5,225.7 L338.8,225.2 L339.1,225.3 L339.4,225.9 L339.7,224.8 L340.0,225.1 L340.3,224.5 L340.6,225.4 L340.9,224.7 L341.2,223.5 L341.5,224.8 L341.8,224.5 L342.1,224.5 L342.4,225.9 L342.7,224.3 L343.0,224.6 L343.3,225.1 L343.6,224.6 L343.9,224.3 L344.2,224.1 L344.5,223.9 L344.8,223.3 L345.0,223.3 L345.4,223.5 L345.7,224.2 L346.0,223.5 L346.3,225.6 L346.6,224.5 L346.9,224.8 L347.2,224.7 L347.5,224.5 L347.8,225.8 L348.1,225.7 L348.4,225.2 L348.7,225.9 L349.0,226.6 L349.3,227.5 L349.6,226.4 L349.9,225.8 L350.2,225.3 L350.5,225.0 L350.8,225.6 L351.1,225.7 L351.4,224.3 L351.7,224.9 L352.0,224.2 L352.3,224.8 L352.6,225.4 L352.9,225.9 L353.2,225.4 L353.5,225.7 L353.8,226.5 L354.1,226.6 L354.4,226.8 L354.7,226.5 L355.0,225.7 L355.3,226.6 L355.6,226.4 L355.9,226.1 L356.2,226.0 L356.5,226.7 L356.8,224.8 L357.1,225.0 L357.4,225.3" fill="none" stroke="#B269DE" stroke-width="1.9" stroke-linejoin="round"/>
<path d="M35.5,147.1 L35.8,145.4 L36.1,146.5 L36.4,145.7 L36.7,146.7 L37.0,146.1 L37.3,146.4 L37.6,146.6 L37.9,147.6 L38.2,146.7 L38.5,146.2 L38.8,147.4 L39.1,147.7 L39.4,147.9 L39.7,148.3 L40.0,148.8 L40.3,147.5 L40.6,147.8 L40.9,147.3 L41.2,148.0 L41.5,148.1 L41.8,149.1 L42.1,149.5 L42.4,148.7 L42.7,148.6 L43.0,148.9 L43.3,148.6 L43.6,148.6 L43.9,148.1 L44.2,147.7 L44.5,147.6 L44.8,147.6 L45.1,147.7 L45.4,148.0 L45.7,149.1 L46.0,148.5 L46.3,149.8 L46.6,150.0 L46.9,150.1 L47.2,149.9 L47.5,150.1 L47.8,149.2 L48.1,150.0 L48.4,150.1 L48.7,150.6 L49.0,151.2 L49.3,150.3 L49.6,150.3 L49.9,150.6 L50.2,150.4 L50.5,151.0 L50.8,150.6 L51.1,150.3 L51.4,149.8 L51.7,150.5 L52.0,149.7 L52.3,149.8 L52.6,150.1 L52.9,149.9 L53.2,150.5 L53.5,151.5 L53.8,150.2 L54.1,150.3 L54.4,150.9 L54.7,150.7 L55.0,150.0 L55.3,149.6 L55.6,149.5 L55.9,148.8 L56.2,148.1 L56.5,145.5 L56.8,141.5 L57.2,138.2 L57.4,139.1 L57.7,142.0 L58.0,146.7 L58.3,148.8 L58.6,149.8 L58.9,151.2 L59.2,151.3 L59.5,152.5 L59.8,151.2 L60.1,150.8 L60.4,151.3 L60.7,151.1 L61.0,151.8 L61.3,151.4 L61.6,150.7 L61.9,150.1 L62.2,150.8 L62.5,150.6 L62.8,150.2 L63.1,150.6 L63.4,151.7 L63.7,151.9 L64.0,151.9 L64.3,151.7 L64.6,151.3 L64.9,151.8 L65.2,150.5 L65.5,150.5 L65.8,150.1 L66.1,150.6 L66.4,149.6 L66.7,149.8 L67.0,150.2 L67.3,150.6 L67.6,150.6 L67.9,150.9 L68.2,151.1 L68.5,151.3 L68.8,151.1 L69.1,152.5 L69.4,151.8 L69.7,150.9 L70.0,150.5 L70.3,150.9 L70.6,150.4 L70.9,150.7 L71.2,150.9 L71.5,150.6 L71.8,149.8 L72.1,150.1 L72.4,150.0 L72.7,151.3 L73.0,152.1 L73.3,152.2 L73.6,151.1 L73.9,150.5 L74.2,150.2 L74.5,150.4 L74.8,151.0 L75.1,151.2 L75.4,151.6 L75.7,150.3 L76.0,151.1 L76.3,150.4 L76.6,150.6 L76.9,150.6 L77.2,151.2 L77.5,151.3 L77.8,151.9 L78.1,151.9 L78.4,152.9 L78.7,153.4 L79.0,153.2 L79.3,152.4 L79.6,152.1 L79.9,151.9 L80.2,153.5 L80.5,152.8 L80.8,152.5 L81.1,151.6 L81.4,151.7 L81.7,152.7 L82.0,151.0 L82.3,152.5 L82.6,152.9 L82.9,153.5 L83.2,153.2 L83.5,152.4 L83.8,153.1 L84.1,153.1 L84.4,153.1 L84.7,153.4 L85.0,153.4 L85.3,153.1 L85.6,152.9 L85.9,153.3 L86.2,153.1 L86.5,151.9 L86.8,152.5 L87.1,152.6 L87.4,152.7 L87.7,152.8 L88.0,150.8 L88.3,150.1 L88.6,152.5 L88.9,151.0 L89.2,151.4 L89.5,151.4 L89.8,151.5 L90.1,152.2 L90.4,152.1 L90.7,152.1 L91.0,152.6 L91.3,152.0 L91.6,152.4 L91.9,153.7 L92.2,153.4 L92.5,152.6 L92.8,152.4 L93.1,151.5 L93.4,151.3 L93.7,152.5 L94.0,151.7 L94.3,150.0 L94.6,151.6 L94.9,150.9 L95.2,151.2 L95.5,151.0 L95.8,151.5 L96.1,151.4 L96.4,151.5 L96.7,151.0 L97.0,151.0 L97.3,150.8 L97.6,149.1 L97.9,147.1 L98.2,144.9 L98.4,144.0 L98.8,145.8 L99.1,147.6 L99.4,148.7 L99.7,150.3 L100.0,150.5 L100.3,151.1 L100.6,150.2 L100.9,150.3 L101.2,151.2 L101.5,151.6 L101.8,150.5 L102.1,151.7 L102.4,152.9 L102.7,152.6 L103.0,152.8 L103.3,151.7 L103.6,152.3 L103.9,152.6 L104.2,152.3 L104.5,151.8 L104.8,151.9 L105.1,154.0 L105.4,153.4 L105.7,152.7 L106.0,152.4 L106.3,151.6 L106.6,152.1 L106.9,152.0 L107.2,151.9 L107.5,152.6 L107.8,152.2 L108.1,151.9 L108.4,152.0 L108.7,151.0 L109.0,151.5 L109.3,152.7 L109.6,151.3 L109.9,151.7 L110.2,150.5 L110.5,150.3 L110.8,150.2 L111.1,150.3 L111.4,150.0 L111.7,151.4 L112.0,150.4 L112.3,151.1 L112.6,151.1 L112.9,151.2 L113.2,151.6 L113.5,151.4 L113.8,151.3 L114.1,151.8 L114.4,151.7 L114.7,150.5 L115.0,150.1 L115.3,149.1 L115.6,147.6 L115.9,145.8 L116.2,142.4 L116.5,136.4 L116.8,131.8 L117.0,131.9 L117.4,134.8 L117.7,141.0 L118.0,144.2 L118.3,148.2 L118.6,148.8 L118.9,149.4 L119.2,149.5 L119.5,150.1 L119.8,151.2 L120.1,150.5 L120.4,150.8 L120.7,151.0 L121.0,151.5 L121.3,151.0 L121.6,151.9 L121.9,152.2 L122.2,151.9 L122.5,150.5 L122.8,151.5 L123.1,150.9 L123.4,151.6 L123.7,150.9 L124.0,151.6 L124.3,151.2 L124.6,150.8 L124.9,151.5 L125.2,151.1 L125.5,150.7 L125.8,151.5 L126.1,151.8 L126.4,152.1 L126.7,151.4 L127.0,152.2 L127.3,151.9 L127.6,151.5 L127.9,151.3 L128.2,152.0 L128.5,151.7 L128.8,151.5 L129.1,151.4 L129.4,150.4 L129.7,151.4 L130.0,151.1 L130.3,151.1 L130.6,151.7 L130.9,151.1 L131.2,149.0 L131.5,146.7 L131.8,138.9 L132.1,125.1 L132.3,119.0 L132.7,134.0 L133.0,144.4 L133.3,148.7 L133.6,149.3 L133.9,150.4 L134.2,151.2 L134.5,151.2 L134.8,150.8 L135.1,150.7 L135.4,150.8 L135.7,150.8 L136.0,151.1 L136.3,149.4 L136.6,150.2 L136.9,150.0 L137.2,150.0 L137.5,150.0 L137.8,150.0 L138.1,149.3 L138.4,148.3 L138.7,148.9 L139.0,148.8 L139.3,148.7 L139.6,148.8 L139.9,149.9 L140.2,150.1 L140.5,150.4 L140.8,150.4 L141.1,150.6 L141.4,150.9 L141.7,151.1 L142.0,150.9 L142.3,150.1 L142.6,150.8 L142.9,149.6 L143.2,149.9 L143.5,150.1 L143.8,149.6 L144.1,151.4 L144.4,150.3 L144.7,149.9 L145.0,148.7 L145.3,147.9 L145.6,147.4 L145.9,147.2 L146.2,147.1 L146.5,146.7 L146.8,144.5 L147.1,143.9 L147.4,143.2 L147.7,141.7 L148.1,139.9 L148.3,141.6 L148.6,142.1 L148.9,142.8 L149.2,144.0 L149.5,144.8 L149.8,145.7 L150.1,147.7 L150.4,147.9 L150.7,149.2 L151.0,149.4 L151.3,149.7 L151.6,149.9 L151.9,150.5 L152.2,151.0 L152.5,149.9 L152.8,150.2 L153.1,150.4 L153.4,150.6 L153.7,151.2 L154.0,151.1 L154.3,150.9 L154.6,151.1 L154.9,150.9 L155.2,151.7 L155.5,151.2 L155.8,151.3 L156.1,151.2 L156.4,151.0 L156.7,150.4 L157.0,148.9 L157.3,148.8 L157.6,148.8 L157.9,148.7 L158.2,147.9 L158.5,147.2 L158.8,146.4 L159.1,143.0 L159.4,141.3 L159.7,139.3 L160.0,139.3 L160.3,140.6 L160.6,141.4 L160.9,143.5 L161.2,144.0 L161.5,145.6 L161.8,146.9 L162.1,148.2 L162.4,147.3 L162.7,147.1 L163.0,147.1 L163.3,146.3 L163.6,145.6 L163.9,145.9 L164.2,146.3 L164.5,145.8 L164.8,145.3 L165.0,144.6 L165.4,145.6 L165.7,147.6 L166.0,147.9 L166.3,149.2 L166.6,149.7 L166.9,151.4 L167.2,150.5 L167.5,150.2 L167.8,150.4 L168.1,149.9 L168.4,150.0 L168.7,149.1 L169.0,149.8 L169.3,148.7 L169.6,149.0 L169.9,149.3 L170.2,149.0 L170.5,149.3 L170.8,149.4 L171.1,149.3 L171.4,149.2 L171.7,148.6 L172.0,148.6 L172.3,149.7 L172.6,150.3 L172.9,149.3 L173.2,151.9 L173.5,152.0 L173.8,151.3 L174.1,151.7 L174.4,152.2 L174.7,152.4 L175.0,152.9 L175.3,152.9 L175.6,152.3 L175.9,151.2 L176.2,150.4 L176.5,150.7 L176.8,150.1 L177.1,149.5 L177.4,149.0 L177.7,148.4 L178.0,148.0 L178.3,147.1 L178.6,148.8 L178.9,149.6 L179.2,149.9 L179.5,151.2 L179.8,151.1 L180.1,150.9 L180.4,151.7 L180.7,151.6 L181.0,153.2 L181.3,152.7 L181.6,152.2 L181.9,152.4 L182.2,152.3 L182.5,151.5 L182.8,151.2 L183.1,150.1 L183.4,150.7 L183.7,150.7 L184.0,149.8 L184.3,150.0 L184.6,151.1 L184.9,152.5 L185.2,152.1 L185.5,152.5 L185.8,151.7 L186.1,152.2 L186.4,152.2 L186.7,152.6 L187.0,152.1 L187.3,152.8 L187.6,152.6 L187.9,152.9 L188.2,153.6 L188.5,152.9 L188.8,153.6 L189.1,153.9 L189.4,152.8 L189.7,153.3 L190.0,153.0 L190.3,153.9 L190.6,154.0 L190.9,153.5 L191.2,154.1 L191.5,154.5 L191.8,154.3 L192.1,153.7 L192.4,153.4 L192.7,152.5 L193.0,152.7 L193.3,153.1 L193.6,153.2 L193.9,152.5 L194.2,153.2 L194.5,152.9 L194.8,153.3 L195.1,154.3 L195.4,154.6 L195.7,154.6 L196.0,155.1 L196.3,155.8 L196.6,155.3 L196.9,154.8 L197.2,155.7 L197.5,156.1 L197.8,156.9 L198.1,156.2 L198.4,155.9 L198.7,155.8 L199.0,156.7 L199.3,156.5 L199.6,155.3 L199.9,155.0 L200.2,154.8 L200.5,154.9 L200.8,155.3 L201.1,156.4 L201.4,156.1 L201.7,156.1 L202.0,156.2 L202.3,156.2 L202.6,155.5 L202.9,156.0 L203.2,154.2 L203.5,155.8 L203.8,154.7 L204.1,155.1 L204.4,155.7 L204.7,154.5 L205.0,154.6 L205.3,155.3 L205.6,155.2 L205.9,154.1 L206.2,153.9 L206.5,152.5 L206.8,152.1 L207.0,151.8 L207.4,152.8 L207.7,152.6 L208.0,153.1 L208.3,153.9 L208.6,154.0 L208.9,153.3 L209.2,154.3 L209.5,154.1 L209.8,153.8 L210.1,155.0 L210.4,155.6 L210.7,156.3 L211.0,156.5 L211.3,157.1 L211.6,157.2 L211.9,157.2 L212.2,157.3 L212.5,156.9 L212.8,156.6 L213.1,156.1 L213.4,156.0 L213.7,156.4 L214.0,155.1 L214.3,155.3 L214.6,156.2 L214.9,155.4 L215.2,156.2 L215.5,155.9 L215.8,155.0 L216.1,155.2 L216.4,155.3 L216.7,156.0 L217.0,156.3 L217.3,155.9 L217.6,157.0 L217.9,156.0 L218.2,157.9 L218.5,156.5 L218.8,157.1 L219.1,156.7 L219.4,156.3 L219.7,157.4 L220.0,156.9 L220.3,156.7 L220.6,156.6 L220.9,156.4 L221.2,155.5 L221.5,155.8 L221.8,155.3 L222.1,155.6 L222.4,155.1 L222.7,156.5 L223.0,155.8 L223.3,157.7 L223.6,157.0 L223.9,155.0 L224.2,154.4 L224.5,153.5 L224.8,151.8 L225.1,152.7 L225.4,152.8 L225.7,153.5 L226.0,154.0 L226.3,154.4 L226.6,153.8 L226.9,154.6 L227.2,155.2 L227.5,155.0 L227.8,155.3 L228.1,155.2 L228.4,156.3 L228.7,156.8 L229.0,155.6 L229.3,155.2 L229.6,154.9 L229.9,154.9 L230.2,154.2 L230.5,154.3 L230.8,155.6 L231.1,157.2 L231.4,156.5 L231.7,155.9 L232.0,155.1 L232.3,156.3 L232.6,156.0 L232.9,156.1 L233.2,155.9 L233.5,156.6 L233.8,156.6 L234.1,157.4 L234.4,156.9 L234.7,156.8 L235.0,157.7 L235.3,157.3 L235.6,157.6 L235.9,156.8 L236.2,156.9 L236.5,155.5 L236.8,156.3 L237.1,156.5 L237.4,157.2 L237.7,157.1 L238.0,157.2 L238.3,156.8 L238.6,156.8 L238.9,157.1 L239.2,156.7 L239.5,157.4 L239.8,157.2 L240.1,157.2 L240.4,157.5 L240.7,157.1 L241.0,156.6 L241.3,156.1 L241.6,156.4 L241.9,156.3 L242.2,156.8 L242.5,157.1 L242.8,156.9 L243.1,157.7 L243.4,157.2 L243.7,156.8 L244.0,157.2 L244.3,157.2 L244.6,157.0 L244.9,157.2 L245.2,158.0 L245.5,157.7 L245.8,157.7 L246.1,156.7 L246.4,156.9 L246.7,156.3 L247.0,155.5 L247.3,154.9 L247.6,155.4 L247.9,155.9 L248.2,157.3 L248.5,156.8 L248.8,157.3 L249.1,156.7 L249.4,156.9 L249.7,156.7 L250.0,155.7 L250.3,155.9 L250.6,156.5 L250.9,157.6 L251.2,156.4 L251.5,157.0 L251.8,157.4 L252.1,157.2 L252.4,157.7 L252.7,158.8 L253.0,158.1 L253.3,159.2 L253.6,158.6 L253.9,157.7 L254.2,159.4 L254.5,157.5 L254.8,157.1 L255.1,156.8 L255.4,156.7 L255.7,157.0 L256.0,157.5 L256.3,157.1 L256.6,156.4 L256.9,156.0 L257.2,156.5 L257.5,156.5 L257.8,157.5 L258.1,156.9 L258.4,157.4 L258.7,158.1 L259.0,159.1 L259.3,158.4 L259.6,158.0 L259.9,158.1 L260.2,157.7 L260.5,157.4 L260.8,157.0 L261.1,156.0 L261.4,156.7 L261.7,156.4 L262.0,156.9 L262.3,155.8 L262.6,156.8 L262.9,155.7 L263.2,155.5 L263.5,154.9 L263.8,155.8 L264.1,157.0 L264.4,157.2 L264.7,157.7 L265.0,158.2 L265.3,156.5 L265.6,156.4 L265.9,156.1 L266.2,156.0 L266.5,156.2 L266.8,156.2 L267.1,156.6 L267.4,156.3 L267.7,156.3 L268.0,156.3 L268.4,155.8 L268.6,154.8 L268.9,154.9 L269.2,155.4 L269.5,155.2 L269.8,155.5 L270.1,156.4 L270.4,155.8 L270.7,155.2 L271.0,155.2 L271.3,155.3 L271.6,156.1 L271.9,156.5 L272.2,156.3 L272.5,157.5 L272.8,156.7 L273.1,157.5 L273.4,156.5 L273.7,156.9 L274.0,156.5 L274.3,157.2 L274.6,156.5 L274.9,155.4 L275.2,156.5 L275.5,156.5 L275.8,156.9 L276.1,156.3 L276.4,155.3 L276.7,156.3 L277.0,154.8 L277.3,155.1 L277.6,155.5 L277.9,155.5 L278.2,155.5 L278.5,156.0 L278.8,155.8 L279.1,156.9 L279.4,157.4 L279.7,156.4 L280.0,156.6 L280.3,156.4 L280.6,155.9 L280.9,155.6 L281.2,155.0 L281.5,155.5 L281.8,155.5 L282.1,155.5 L282.4,156.6 L282.7,156.1 L283.0,157.0 L283.3,157.1 L283.6,157.6 L283.9,157.7 L284.2,157.1 L284.5,157.4 L284.8,159.0 L285.1,159.6 L285.4,159.2 L285.7,158.5 L286.0,157.8 L286.3,157.9 L286.6,157.5 L286.9,157.8 L287.2,157.4 L287.5,158.2 L287.8,157.4 L288.1,157.5 L288.4,158.0 L288.7,157.8 L289.0,158.9 L289.3,157.9 L289.6,157.5 L289.9,157.5 L290.2,158.3 L290.5,158.5 L290.8,157.7 L291.1,157.5 L291.4,158.1 L291.7,159.3 L292.0,158.2 L292.3,158.4 L292.6,157.4 L292.9,158.0 L293.2,156.9 L293.5,157.3 L293.8,155.9 L294.1,156.3 L294.4,156.6 L294.7,156.2 L295.0,157.2 L295.3,156.9 L295.6,157.5 L295.9,155.9 L296.2,156.4 L296.5,156.1 L296.8,156.8 L297.1,156.4 L297.4,156.3 L297.7,157.6 L298.0,157.4 L298.3,157.0 L298.6,157.9 L298.9,157.8 L299.2,158.0 L299.5,158.4 L299.8,158.5 L300.1,157.6 L300.4,157.4 L300.7,158.1 L301.0,158.6 L301.3,158.8 L301.6,158.0 L301.9,157.5 L302.2,157.9 L302.5,157.5 L302.8,157.5 L303.1,157.3 L303.4,157.3 L303.7,156.3 L304.0,157.1 L304.3,156.5 L304.6,156.9 L304.9,156.8 L305.2,156.6 L305.5,157.2 L305.8,156.1 L306.1,157.5 L306.4,157.5 L306.7,156.8 L307.0,157.4 L307.3,157.6 L307.6,157.3 L307.9,157.3 L308.2,157.6 L308.5,157.7 L308.8,157.7 L309.1,157.6 L309.4,158.0 L309.7,158.6 L310.0,158.0 L310.3,158.1 L310.6,157.0 L310.9,158.4 L311.2,158.2 L311.5,159.2 L311.8,159.0 L312.1,159.5 L312.4,160.4 L312.7,158.9 L313.0,158.7 L313.3,158.2 L313.6,159.0 L313.9,158.6 L314.2,159.2 L314.5,158.7 L314.8,158.0 L315.1,158.9 L315.4,157.9 L315.7,157.5 L316.0,157.1 L316.3,157.9 L316.6,158.0 L316.9,157.5 L317.2,157.8 L317.5,158.2 L317.8,158.4 L318.1,158.5 L318.4,157.4 L318.7,157.8 L319.0,158.5 L319.3,158.8 L319.6,159.0 L319.9,158.5 L320.2,158.1 L320.5,158.5 L320.8,157.1 L321.1,157.9 L321.4,157.3 L321.7,157.4 L322.0,158.4 L322.3,158.3 L322.6,158.7 L322.9,158.8 L323.2,159.6 L323.5,157.5 L323.8,158.7 L324.1,157.4 L324.4,157.7 L324.7,156.6 L325.0,157.0 L325.3,156.7 L325.6,156.5 L325.9,156.6 L326.2,156.7 L326.5,157.1 L326.8,156.1 L327.1,157.0 L327.4,156.4 L327.7,154.9 L328.0,153.9 L328.2,154.3 L328.6,154.6 L328.9,155.3 L329.2,156.4 L329.5,158.1 L329.8,157.6 L330.1,158.3 L330.4,158.5 L330.7,157.6 L331.0,157.8 L331.3,157.4 L331.6,157.8 L331.9,157.0 L332.2,157.0 L332.5,155.9 L332.8,158.0 L333.1,158.6 L333.4,157.8 L333.7,158.0 L334.0,159.1 L334.3,158.7 L334.6,158.6 L334.9,158.2 L335.2,159.1 L335.5,159.2 L335.8,159.4 L336.1,159.0 L336.4,159.6 L336.7,159.0 L337.0,159.2 L337.3,158.2 L337.6,158.0 L337.9,158.7 L338.2,159.1 L338.5,158.9 L338.8,157.8 L339.1,157.8 L339.4,157.4 L339.7,157.2 L340.0,156.4 L340.3,157.1 L340.6,157.2 L340.9,157.8 L341.2,157.9 L341.5,158.9 L341.8,158.6 L342.1,157.4 L342.4,157.4 L342.7,157.1 L343.0,157.8 L343.3,157.2 L343.6,157.2 L343.9,158.0 L344.2,157.2 L344.5,156.6 L344.8,157.2 L345.1,158.1 L345.4,158.2 L345.7,158.1 L346.0,157.9 L346.3,157.7 L346.6,157.5 L346.9,156.8 L347.2,157.7 L347.5,157.9 L347.8,157.7 L348.1,157.3 L348.4,157.0 L348.7,157.6 L349.0,157.7 L349.3,157.2 L349.6,157.7 L349.9,157.3 L350.2,158.3 L350.5,157.6 L350.8,158.0 L351.1,159.2 L351.4,158.2 L351.7,158.7 L352.0,157.2 L352.3,158.4 L352.6,158.5 L352.9,159.2 L353.2,158.6 L353.5,158.4 L353.8,157.2 L354.1,157.9 L354.4,156.8 L354.7,158.0 L355.0,157.6 L355.3,158.7 L355.6,159.2 L355.9,158.7 L356.2,157.5 L356.5,158.7 L356.8,157.5 L357.1,156.8 L357.4,157.2" fill="none" stroke="#80454A" stroke-width="1.9" stroke-linejoin="round"/>
<path d="M35.5,76.4 L35.8,76.0 L36.1,75.4 L36.4,75.1 L36.7,75.5 L37.0,75.0 L37.3,74.6 L37.6,75.5 L37.9,76.6 L38.2,75.9 L38.5,77.2 L38.8,76.8 L39.1,77.7 L39.4,78.6 L39.7,79.0 L40.0,77.5 L40.3,76.7 L40.6,76.4 L40.9,77.5 L41.2,77.4 L41.5,76.8 L41.8,77.8 L42.1,77.1 L42.4,77.3 L42.7,78.2 L43.0,77.2 L43.3,77.7 L43.6,77.2 L43.9,78.1 L44.2,78.3 L44.5,77.5 L44.8,79.1 L45.1,77.3 L45.4,77.6 L45.7,76.7 L46.0,78.0 L46.3,77.8 L46.6,77.9 L46.9,77.7 L47.2,77.1 L47.5,76.3 L47.8,72.9 L48.1,67.9 L48.4,56.9 L48.6,53.3 L49.0,64.1 L49.3,71.6 L49.6,75.8 L49.9,77.4 L50.2,77.5 L50.5,78.3 L50.8,77.9 L51.1,78.1 L51.4,78.2 L51.7,79.6 L52.0,79.8 L52.3,80.1 L52.6,79.7 L52.9,79.9 L53.2,80.9 L53.5,81.1 L53.8,82.2 L54.1,80.7 L54.4,81.7 L54.7,81.1 L55.0,81.3 L55.3,81.2 L55.6,81.2 L55.9,80.2 L56.2,80.4 L56.5,80.9 L56.8,81.6 L57.1,81.6 L57.4,81.6 L57.7,80.8 L58.0,82.3 L58.3,81.7 L58.6,81.6 L58.9,81.8 L59.2,80.8 L59.5,81.7 L59.8,83.7 L60.1,83.2 L60.4,82.0 L60.7,80.9 L61.0,80.6 L61.3,80.8 L61.6,82.0 L61.9,82.1 L62.2,82.2 L62.5,81.9 L62.8,81.0 L63.1,81.8 L63.4,82.5 L63.7,82.3 L64.0,81.8 L64.3,82.7 L64.6,82.9 L64.9,83.1 L65.2,82.5 L65.5,82.6 L65.8,81.4 L66.1,81.3 L66.4,82.3 L66.7,82.0 L67.0,82.2 L67.3,82.3 L67.6,82.9 L67.9,84.0 L68.2,84.2 L68.5,83.4 L68.8,84.5 L69.1,84.2 L69.4,83.2 L69.7,84.3 L70.0,83.6 L70.3,83.4 L70.6,83.0 L70.9,83.6 L71.2,82.5 L71.5,82.7 L71.8,82.5 L72.1,83.3 L72.4,83.5 L72.7,83.6 L73.0,83.9 L73.3,84.0 L73.6,84.7 L73.9,84.0 L74.2,83.9 L74.5,84.1 L74.8,84.7 L75.1,84.6 L75.4,85.0 L75.7,83.6 L76.0,85.0 L76.3,84.0 L76.6,83.6 L76.9,82.6 L77.2,82.8 L77.5,83.8 L77.8,83.2 L78.1,82.3 L78.4,81.3 L78.7,79.3 L79.0,75.7 L79.3,71.3 L79.6,68.3 L79.9,71.4 L80.2,76.9 L80.5,80.8 L80.8,83.2 L81.1,81.7 L81.4,83.8 L81.7,83.6 L82.0,83.4 L82.3,83.3 L82.6,83.0 L82.9,83.4 L83.2,85.1 L83.5,83.4 L83.8,84.3 L84.1,84.4 L84.4,85.0 L84.7,84.6 L85.0,84.4 L85.3,84.1 L85.6,85.1 L85.9,83.8 L86.2,83.7 L86.5,83.4 L86.8,83.8 L87.1,83.2 L87.4,83.9 L87.7,83.4 L88.0,83.4 L88.3,83.9 L88.6,83.9 L88.9,84.2 L89.2,85.1 L89.5,84.9 L89.8,84.2 L90.1,83.9 L90.4,83.6 L90.7,83.8 L91.0,84.7 L91.3,84.7 L91.6,86.0 L91.9,85.0 L92.2,85.4 L92.5,84.2 L92.8,84.1 L93.1,84.8 L93.4,84.8 L93.7,84.4 L94.0,85.0 L94.3,85.8 L94.6,84.9 L94.9,84.2 L95.2,84.9 L95.5,84.6 L95.8,83.7 L96.1,83.9 L96.4,83.4 L96.7,85.1 L97.0,84.6 L97.3,84.2 L97.6,81.2 L97.9,76.9 L98.2,71.9 L98.5,75.6 L98.8,80.6 L99.1,84.0 L99.4,84.1 L99.7,84.9 L100.0,84.2 L100.3,84.0 L100.6,84.1 L100.9,83.8 L101.2,84.7 L101.5,83.8 L101.8,83.5 L102.1,82.1 L102.4,77.6 L102.7,69.7 L103.0,65.0 L103.3,70.7 L103.6,77.8 L103.9,81.7 L104.2,83.0 L104.5,83.3 L104.8,83.1 L105.1,83.5 L105.4,82.8 L105.7,83.4 L106.0,82.4 L106.3,83.4 L106.6,84.1 L106.9,84.0 L107.2,84.2 L107.5,83.5 L107.8,84.0 L108.1,83.9 L108.4,82.4 L108.7,83.5 L109.0,84.7 L109.3,83.1 L109.6,84.2 L109.9,83.1 L110.2,84.6 L110.5,85.1 L110.8,84.3 L111.1,84.7 L111.4,84.1 L111.7,84.0 L112.0,84.9 L112.3,84.1 L112.6,83.4 L112.9,83.0 L113.2,83.6 L113.5,83.0 L113.8,84.0 L114.1,82.9 L114.4,83.3 L114.7,83.6 L115.0,83.0 L115.3,83.0 L115.6,83.1 L115.9,82.7 L116.2,83.6 L116.5,83.1 L116.8,83.7 L117.1,84.1 L117.4,84.5 L117.7,84.7 L118.0,84.5 L118.3,83.7 L118.6,84.5 L118.9,84.9 L119.2,84.4 L119.5,84.7 L119.8,84.8 L120.1,84.6 L120.4,85.1 L120.7,84.2 L121.0,83.7 L121.3,83.8 L121.6,83.5 L121.9,84.3 L122.2,83.5 L122.5,83.3 L122.8,84.2 L123.1,83.1 L123.4,82.6 L123.7,82.5 L124.0,82.9 L124.3,80.7 L124.6,83.1 L124.9,82.5 L125.2,82.7 L125.5,82.6 L125.8,82.9 L126.1,82.8 L126.4,82.4 L126.7,82.3 L127.0,83.1 L127.3,82.8 L127.6,82.6 L127.9,83.0 L128.2,82.4 L128.5,81.2 L128.8,81.6 L129.1,82.5 L129.4,82.9 L129.7,82.9 L130.0,83.1 L130.3,82.4 L130.6,81.9 L130.9,81.0 L131.2,78.0 L131.5,67.2 L131.8,49.7 L132.0,42.1 L132.4,61.6 L132.7,74.8 L133.0,79.8 L133.3,81.6 L133.6,81.3 L133.9,81.4 L134.2,81.9 L134.5,81.2 L134.8,81.3 L135.1,82.0 L135.4,82.1 L135.7,82.4 L136.0,84.0 L136.3,83.4 L136.6,84.5 L136.9,84.1 L137.2,84.3 L137.5,84.9 L137.8,84.4 L138.1,82.1 L138.4,81.0 L138.7,80.5 L139.0,79.6 L139.3,78.5 L139.6,77.4 L139.9,72.2 L140.2,62.4 L140.5,47.7 L140.7,42.8 L141.1,56.2 L141.4,68.4 L141.7,73.7 L142.0,75.8 L142.3,75.7 L142.5,76.5 L142.9,76.6 L143.2,75.8 L143.5,76.5 L143.8,76.2 L144.1,76.4 L144.4,76.8 L144.7,77.1 L145.0,77.3 L145.3,76.1 L145.6,76.8 L145.9,77.8 L146.2,76.5 L146.5,76.5 L146.8,75.4 L147.1,73.9 L147.5,70.6 L147.7,69.7 L148.0,67.1 L148.3,63.3 L148.6,62.9 L148.9,64.9 L149.2,67.1 L149.5,70.4 L149.8,73.4 L150.1,76.5 L150.4,77.3 L150.7,78.2 L151.0,79.8 L151.3,80.6 L151.6,80.6 L151.9,79.3 L152.2,79.6 L152.5,80.6 L152.8,80.3 L153.1,80.2 L153.4,81.1 L153.7,80.3 L154.0,80.9 L154.3,81.7 L154.6,81.1 L154.9,80.9 L155.2,80.4 L155.5,81.0 L155.8,81.3 L156.1,81.9 L156.4,82.0 L156.7,81.9 L157.0,80.7 L157.3,79.9 L157.6,80.1 L157.9,81.0 L158.2,80.0 L158.5,78.7 L158.8,78.1 L159.1,76.3 L159.4,72.4 L159.8,69.1 L160.0,68.6 L160.3,73.4 L160.6,76.1 L160.9,77.8 L161.2,77.5 L161.5,78.5 L161.8,78.6 L162.0,78.1 L162.4,77.2 L162.7,77.4 L163.0,76.6 L163.3,76.1 L163.6,75.5 L164.0,74.1 L164.2,74.2 L164.5,75.4 L164.8,77.8 L165.1,78.8 L165.4,80.3 L165.7,81.1 L166.0,80.5 L166.3,81.1 L166.6,79.7 L166.9,79.6 L167.2,79.1 L167.5,79.5 L167.8,80.0 L168.1,81.3 L168.4,80.9 L168.7,81.7 L169.0,82.4 L169.3,82.6 L169.6,82.4 L169.9,82.9 L170.2,82.6 L170.5,82.4 L170.8,81.1 L171.1,79.5 L171.4,73.5 L171.7,69.4 L172.0,65.4 L172.3,69.0 L172.6,76.3 L172.9,80.2 L173.2,82.0 L173.5,82.6 L173.8,83.6 L174.1,83.4 L174.4,82.8 L174.7,82.0 L175.0,82.0 L175.3,81.1 L175.6,81.8 L175.9,82.0 L176.2,81.4 L176.5,80.5 L176.8,81.3 L177.1,81.8 L177.4,82.5 L177.7,83.1 L178.0,83.3 L178.3,82.0 L178.6,82.3 L178.9,82.5 L179.2,82.2 L179.5,82.3 L179.8,82.0 L180.1,82.2 L180.4,82.5 L180.7,82.0 L181.0,82.1 L181.3,83.0 L181.6,83.7 L181.9,84.1 L182.2,84.2 L182.5,84.3 L182.8,83.4 L183.1,82.6 L183.4,81.4 L183.7,81.1 L184.0,79.8 L184.3,79.9 L184.6,78.9 L185.0,78.8 L185.2,78.4 L185.5,80.2 L185.8,80.4 L186.1,82.4 L186.4,83.2 L186.7,84.1 L187.0,83.9 L187.3,85.7 L187.6,84.9 L187.9,84.5 L188.2,85.3 L188.5,85.0 L188.8,84.9 L189.1,85.2 L189.4,84.2 L189.7,83.7 L190.0,84.8 L190.3,83.2 L190.6,83.3 L191.0,82.3 L191.2,83.9 L191.5,84.0 L191.8,83.9 L192.1,84.4 L192.4,84.7 L192.7,85.7 L193.0,85.2 L193.3,86.9 L193.6,85.2 L193.9,85.6 L194.2,84.7 L194.5,84.7 L194.8,85.9 L195.1,85.4 L195.4,84.8 L195.7,84.6 L196.0,83.4 L196.3,83.9 L196.6,84.3 L196.9,84.6 L197.2,83.3 L197.5,84.3 L197.8,84.2 L198.1,84.6 L198.4,84.9 L198.7,84.3 L199.0,83.4 L199.3,82.9 L199.6,82.9 L200.0,83.1 L200.2,83.9 L200.5,84.4 L200.8,84.0 L201.1,84.6 L201.4,84.2 L201.7,84.6 L202.0,86.2 L202.3,87.1 L202.6,86.5 L202.9,86.3 L203.2,86.3 L203.5,87.1 L203.8,87.2 L204.1,86.5 L204.4,86.8 L204.7,85.6 L205.0,86.6 L205.3,86.6 L205.6,86.3 L205.9,84.4 L206.2,84.4 L206.5,82.5 L206.9,82.8 L207.1,84.2 L207.4,83.1 L207.7,83.7 L208.0,83.9 L208.3,85.1 L208.6,85.4 L208.9,85.7 L209.2,86.8 L209.5,86.9 L209.8,86.6 L210.1,87.1 L210.4,86.3 L210.7,86.6 L211.0,87.0 L211.3,87.6 L211.6,87.4 L211.9,87.6 L212.2,87.4 L212.5,86.4 L212.8,87.7 L213.1,88.0 L213.4,87.6 L213.7,87.4 L214.0,87.4 L214.3,87.0 L214.6,87.7 L214.9,87.8 L215.2,88.3 L215.5,87.9 L215.8,88.3 L216.1,88.1 L216.4,86.9 L216.7,87.5 L217.0,87.6 L217.3,87.1 L217.6,86.5 L217.9,87.6 L218.2,86.8 L218.5,88.2 L218.8,88.2 L219.1,89.3 L219.4,88.9 L219.7,88.9 L220.0,88.9 L220.3,88.2 L220.6,88.7 L220.9,88.8 L221.2,87.9 L221.5,88.8 L221.8,88.5 L222.1,87.7 L222.4,88.0 L222.7,88.0 L223.0,87.9 L223.3,88.7 L223.6,88.2 L223.9,88.3 L224.2,88.5 L224.5,87.3 L224.8,86.8 L225.1,87.3 L225.4,87.8 L225.7,88.1 L226.0,87.9 L226.3,88.7 L226.6,88.6 L226.9,87.8 L227.2,88.2 L227.5,87.7 L227.8,87.5 L228.1,86.9 L228.4,87.4 L228.7,86.4 L229.0,86.3 L229.3,87.2 L229.6,87.0 L229.9,87.8 L230.2,87.6 L230.5,88.9 L230.8,90.1 L231.1,90.0 L231.4,89.8 L231.7,89.8 L232.0,90.8 L232.3,91.4 L232.6,91.4 L232.9,91.0 L233.2,89.3 L233.5,90.2 L233.8,88.9 L234.1,88.0 L234.4,89.0 L234.7,86.9 L235.0,87.2 L235.3,87.8 L235.6,86.4 L235.9,87.8 L236.2,88.0 L236.5,88.0 L236.8,87.2 L237.1,87.8 L237.4,88.2 L237.7,87.5 L238.0,87.7 L238.3,88.5 L238.6,87.5 L238.9,88.7 L239.2,88.7 L239.5,87.9 L239.8,88.1 L240.1,88.4 L240.4,87.9 L240.7,87.5 L241.0,88.6 L241.3,88.7 L241.6,88.6 L241.9,89.3 L242.2,89.2 L242.5,89.4 L242.8,88.3 L243.1,88.2 L243.4,89.3 L243.7,88.0 L244.0,88.0 L244.3,87.0 L244.6,87.8 L244.9,87.1 L245.2,87.8 L245.5,87.1 L245.8,85.5 L246.1,84.3 L246.4,84.5 L246.6,84.8 L247.0,84.2 L247.3,84.8 L247.6,85.8 L247.9,86.5 L248.2,86.3 L248.5,85.6 L248.8,86.4 L249.1,86.5 L249.4,87.0 L249.7,86.6 L250.0,87.3 L250.3,86.4 L250.6,87.1 L250.9,86.9 L251.2,87.4 L251.5,87.4 L251.8,87.7 L252.1,87.8 L252.4,88.1 L252.7,88.7 L253.0,88.8 L253.3,89.3 L253.6,89.1 L253.9,89.0 L254.2,88.2 L254.5,87.9 L254.8,88.2 L255.1,87.9 L255.4,88.0 L255.7,87.9 L256.0,87.2 L256.3,86.7 L256.6,87.3 L256.9,88.4 L257.2,87.2 L257.5,87.1 L257.8,86.7 L258.1,86.4 L258.4,86.1 L258.7,85.8 L259.0,86.9 L259.3,87.6 L259.6,87.8 L259.9,88.7 L260.2,88.0 L260.5,87.6 L260.8,87.8 L261.1,87.9 L261.4,90.2 L261.7,89.4 L262.0,88.5 L262.3,88.5 L262.6,87.7 L262.9,87.8 L263.2,86.9 L263.5,87.8 L263.8,87.0 L264.1,87.0 L264.4,86.3 L264.7,85.7 L265.0,85.5 L265.3,85.2 L265.6,85.7 L265.9,85.0 L266.2,85.5 L266.5,86.8 L266.8,87.4 L267.1,87.6 L267.4,87.2 L267.7,87.6 L268.0,86.5 L268.3,85.8 L268.6,85.3 L268.9,83.9 L269.2,83.6 L269.5,82.5 L269.8,81.9 L270.0,82.7 L270.4,82.5 L270.7,82.9 L271.0,83.2 L271.3,83.8 L271.6,85.1 L271.9,86.6 L272.2,85.6 L272.5,85.7 L272.8,86.8 L273.1,87.3 L273.4,87.6 L273.7,89.3 L274.0,87.8 L274.3,87.2 L274.6,87.7 L274.9,87.2 L275.2,88.5 L275.5,87.8 L275.8,88.7 L276.1,87.6 L276.4,87.7 L276.7,87.9 L277.0,87.4 L277.3,87.4 L277.6,86.4 L277.9,86.5 L278.2,87.5 L278.5,86.1 L278.8,86.6 L279.1,88.1 L279.4,87.4 L279.7,86.9 L280.0,87.0 L280.3,87.3 L280.6,87.6 L280.9,87.6 L281.2,87.0 L281.5,87.8 L281.8,87.0 L282.1,86.9 L282.4,87.2 L282.7,87.1 L283.0,87.1 L283.3,86.5 L283.6,87.3 L283.9,87.7 L284.2,87.6 L284.5,88.3 L284.8,87.3 L285.1,86.8 L285.4,86.7 L285.7,87.9 L286.0,87.3 L286.3,87.0 L286.6,86.7 L286.9,87.1 L287.2,86.4 L287.5,85.7 L287.8,86.0 L288.1,86.1 L288.4,84.1 L288.8,82.7 L289.0,82.7 L289.3,83.3 L289.6,84.0 L289.9,84.5 L290.2,84.9 L290.5,85.7 L290.8,85.6 L291.1,86.0 L291.4,85.5 L291.7,85.3 L292.0,86.4 L292.3,86.9 L292.6,87.4 L292.9,88.7 L293.2,88.3 L293.5,88.2 L293.8,87.7 L294.1,88.0 L294.4,88.3 L294.7,87.8 L295.0,88.3 L295.3,86.8 L295.6,86.7 L295.9,88.1 L296.2,87.3 L296.5,87.4 L296.8,87.8 L297.1,88.2 L297.4,86.8 L297.7,87.4 L298.0,86.0 L298.3,86.1 L298.6,86.8 L298.9,86.8 L299.2,88.1 L299.5,87.4 L299.8,88.6 L300.1,88.9 L300.4,88.6 L300.7,88.9 L301.0,89.4 L301.3,89.5 L301.6,89.8 L301.9,90.6 L302.2,90.5 L302.5,91.5 L302.8,90.9 L303.1,90.6 L303.4,90.6 L303.7,89.9 L304.0,90.7 L304.3,91.4 L304.6,90.3 L304.9,90.7 L305.2,90.2 L305.5,89.4 L305.8,89.8 L306.1,88.8 L306.4,88.9 L306.7,89.7 L307.0,88.8 L307.3,88.0 L307.6,87.9 L307.9,88.7 L308.2,88.4 L308.5,89.1 L308.8,90.1 L309.1,89.1 L309.4,88.8 L309.7,87.6 L310.0,89.0 L310.3,89.0 L310.6,89.3 L310.9,88.9 L311.2,89.0 L311.5,89.2 L311.8,89.8 L312.1,90.0 L312.4,89.8 L312.7,89.4 L313.0,88.9 L313.3,89.9 L313.6,90.2 L313.9,89.7 L314.2,89.3 L314.5,89.5 L314.8,88.6 L315.1,88.5 L315.4,89.0 L315.7,89.5 L316.0,88.9 L316.3,89.4 L316.6,89.8 L316.9,89.1 L317.2,88.6 L317.5,89.1 L317.8,89.7 L318.1,88.6 L318.4,89.2 L318.7,88.5 L319.0,89.8 L319.3,88.9 L319.6,88.6 L319.9,90.0 L320.2,89.9 L320.5,89.1 L320.8,88.2 L321.1,88.2 L321.4,89.4 L321.7,89.3 L322.0,89.7 L322.3,90.2 L322.6,89.7 L322.9,89.7 L323.2,88.8 L323.5,89.7 L323.8,89.5 L324.1,87.9 L324.4,88.4 L324.7,89.0 L325.0,88.9 L325.3,88.8 L325.6,88.0 L325.9,89.1 L326.2,88.4 L326.5,88.7 L326.8,87.5 L327.1,87.5 L327.4,87.9 L327.8,87.8 L328.0,88.4 L328.3,88.0 L328.6,87.1 L328.9,87.8 L329.2,88.6 L329.5,88.5 L329.8,88.4 L330.1,88.6 L330.4,89.1 L330.7,88.8 L331.0,89.1 L331.3,88.7 L331.6,87.8 L331.9,89.3 L332.2,90.2 L332.5,90.0 L332.8,89.2 L333.1,89.4 L333.4,88.5 L333.7,89.9 L334.0,90.0 L334.3,90.6 L334.6,91.8 L334.9,90.1 L335.2,90.2 L335.5,90.9 L335.8,88.6 L336.1,89.7 L336.4,90.3 L336.7,89.8 L337.0,90.5 L337.3,90.1 L337.6,89.8 L337.9,89.6 L338.2,89.1 L338.5,88.2 L338.8,89.0 L339.1,88.6 L339.4,88.3 L339.7,88.2 L340.0,88.3 L340.3,87.9 L340.6,89.3 L340.9,89.4 L341.2,88.5 L341.5,88.9 L341.8,88.0 L342.1,89.3 L342.4,87.9 L342.7,88.6 L343.0,87.0 L343.3,87.6 L343.6,87.8 L343.9,87.9 L344.2,87.8 L344.5,87.7 L344.8,88.5 L345.1,88.5 L345.4,88.6 L345.7,88.6 L346.0,88.8 L346.3,89.2 L346.6,89.0 L346.9,89.3 L347.2,89.3 L347.5,88.6 L347.8,89.1 L348.1,88.9 L348.4,89.2 L348.7,88.6 L349.0,89.6 L349.3,89.8 L349.6,89.7 L349.9,90.2 L350.2,89.8 L350.5,88.5 L350.8,88.5 L351.1,88.7 L351.4,88.8 L351.7,89.4 L352.0,89.0 L352.3,89.1 L352.6,89.1 L352.9,88.7 L353.2,89.3 L353.5,89.0 L353.8,89.8 L354.1,88.8 L354.4,89.8 L354.7,90.0 L355.0,89.8 L355.3,89.7 L355.6,89.3 L355.9,89.6 L356.2,89.8 L356.5,90.2 L356.8,89.2 L357.1,89.7 L357.4,89.8" fill="none" stroke="#5B9BD5" stroke-width="1.9" stroke-linejoin="round"/>
<line x1="281.5" x2="319.5" y1="55.6" y2="55.6" stroke="#5B9BD5" stroke-width="1.6" stroke-linecap="round"/>
<line x1="281.5" x2="319.5" y1="126.6" y2="126.6" stroke="#80454A" stroke-width="1.6" stroke-linecap="round"/>
<line x1="281.5" x2="319.5" y1="197.3" y2="197.3" stroke="#B269DE" stroke-width="1.6" stroke-linecap="round"/>
<line x1="281.5" x2="319.5" y1="268.4" y2="268.4" stroke="#F03E44" stroke-width="1.6" stroke-linecap="round"/>
<g stroke="#000" stroke-width="1.6" fill="none">
<path d="M35,310.8 V4.3 H358.1 V303.4"/>
<path d="M34.2,303.4 H358.9"/>
<path d="M93.7,303.4 V310.8"/>
<path d="M152.5,303.4 V310.8"/>
<path d="M211.2,303.4 V310.8"/>
<path d="M269.9,303.4 V310.8"/>
<path d="M328.7,303.4 V310.8"/>
<path d="M64.4,303.4 V308"/>
<path d="M123.1,303.4 V308"/>
<path d="M181.8,303.4 V308"/>
<path d="M240.6,303.4 V308"/>
<path d="M299.3,303.4 V308"/>
<path d="M358.0,303.4 V308"/>
</g>
<g stroke="#000" stroke-width="1.4" fill="none">
<path d="M409.3,304.3 V94.9 M405.1,94.9 H681.9 V305.0 M402.8,304.3 H682.6"/>
<path d="M402.8,257.8 H409.3"/>
<path d="M402.8,211.3 H409.3"/>
<path d="M402.8,164.9 H409.3"/>
<path d="M402.8,118.4 H409.3"/>
<path d="M405.1,281.1 H409.3"/>
<path d="M405.1,234.6 H409.3"/>
<path d="M405.1,188.1 H409.3"/>
<path d="M405.1,141.6 H409.3"/>
<path d="M443.35,304.3 V310.6"/>
<path d="M511.5,304.3 V310.6"/>
<path d="M579.4,304.3 V310.6"/>
<path d="M647.5,304.3 V310.6"/>
</g>
<rect x="419.40" y="211.34" width="47.90" height="92.96" fill="#5870FC" stroke="#000" stroke-width="1.3"/>
<path d="M443.35,206.69 V215.99 M437.55,206.69 H449.15000000000003 M437.55,215.99 H449.15000000000003" stroke="#000" stroke-width="1.3" fill="none"/>
<rect x="487.55" y="196.00" width="47.90" height="108.30" fill="#5870FC" stroke="#000" stroke-width="1.3"/>
<path d="M511.5,192.52 V199.49 M505.7,192.52 H517.3 M505.7,199.49 H517.3" stroke="#000" stroke-width="1.3" fill="none"/>
<rect x="555.45" y="192.63" width="47.90" height="111.67" fill="#5870FC" stroke="#000" stroke-width="1.3"/>
<path d="M579.4,188.10 V197.16 M573.6,188.10 H585.1999999999999 M573.6,197.16 H585.1999999999999" stroke="#000" stroke-width="1.3" fill="none"/>
<rect x="623.55" y="106.41" width="47.90" height="197.89" fill="#5870FC" stroke="#000" stroke-width="1.3"/>
<path d="M647.5,99.44 V113.38 M641.7,99.44 H653.3 M641.7,113.38 H653.3" stroke="#000" stroke-width="1.3" fill="none"/>
<text transform="translate(37.41,22.30) scale(1.0856,1)" font-size="20.3" font-weight="bold" fill="#000">(a)</text>
<text transform="translate(161.94,17.10) scale(1.0306,1)" font-size="14.8" fill="#000">P1:zeolite Na-P1  Q:quartz</text>
<text transform="translate(185.51,33.90) scale(1.0244,1)" font-size="14.8" fill="#000">S:sodlite  K:katoite</text>
<text transform="translate(177.49,50.40) scale(1.0279,1)" font-size="14.8" fill="#000">C0:calcium carbonate</text>
<text transform="translate(43.73,48.50) scale(1.0228,1)" font-size="15.4" fill="#000">P1</text>
<text transform="translate(74.28,63.00) scale(0.9151,1)" font-size="15.4" fill="#000">P1</text>
<text transform="translate(88.83,67.60) scale(1.0839,1)" font-size="15.4" fill="#000">Q</text>
<text transform="translate(100.95,60.00) scale(0.9690,1)" font-size="15.4" fill="#000">P1</text>
<text transform="translate(124.15,36.00) scale(1.0546,1)" font-size="15.4" fill="#000">Q</text>
<text transform="translate(136.33,38.40) scale(1.0161,1)" font-size="15.4" fill="#000">P1</text>
<text transform="translate(143.69,57.50) scale(0.9875,1)" font-size="15.4" fill="#000">C0</text>
<text transform="translate(154.83,68.40) scale(1.0122,1)" font-size="15.4" fill="#000">K</text>
<text transform="translate(166.66,62.20) scale(0.9623,1)" font-size="15.4" fill="#000">P1</text>
<text transform="translate(203.29,79.00) scale(1.1522,1)" font-size="15.4" fill="#000">Q</text>
<text transform="translate(279.50,81.20) scale(1.0834,1)" font-size="15.4" fill="#000">P1</text>
<text transform="translate(52.91,136.00) scale(1.0873,1)" font-size="15.4" fill="#000">S</text>
<text transform="translate(91.45,141.50) scale(1.0546,1)" font-size="15.4" fill="#000">Q</text>
<text transform="translate(111.17,130.20) scale(1.0269,1)" font-size="15.4" fill="#000">S</text>
<text transform="translate(126.65,113.00) scale(1.0546,1)" font-size="15.4" fill="#000">Q</text>
<text transform="translate(138.24,134.60) scale(1.0773,1)" font-size="15.4" fill="#000">C0</text>
<text transform="translate(157.67,135.50) scale(0.9263,1)" font-size="15.4" fill="#000">K</text>
<text transform="translate(201.03,146.50) scale(1.0936,1)" font-size="15.4" fill="#000">Q</text>
<text transform="translate(221.58,147.60) scale(1.1175,1)" font-size="15.4" fill="#000">S</text>
<text transform="translate(52.21,203.50) scale(1.0873,1)" font-size="15.4" fill="#000">S</text>
<text transform="translate(92.37,202.60) scale(1.0253,1)" font-size="15.4" fill="#000">Q</text>
<text transform="translate(112.01,198.60) scale(1.0873,1)" font-size="15.4" fill="#000">S</text>
<text transform="translate(140.55,197.10) scale(1.0533,1)" font-size="15.4" fill="#000">C0</text>
<text transform="translate(159.49,199.80) scale(0.8881,1)" font-size="15.4" fill="#000">K</text>
<text transform="translate(203.14,210.00) scale(1.0741,1)" font-size="15.4" fill="#000">Q</text>
<text transform="translate(220.50,211.30) scale(1.1024,1)" font-size="15.4" fill="#000">S</text>
<text transform="translate(127.46,245.30) scale(1.0351,1)" font-size="15.4" fill="#000">Q</text>
<text transform="translate(158.57,249.90) scale(0.9358,1)" font-size="15.4" fill="#000">K</text>
<text transform="translate(54.33,277.20) scale(1.0722,1)" font-size="15.4" fill="#000">S</text>
<text transform="translate(93.26,276.50) scale(1.0351,1)" font-size="15.4" fill="#000">Q</text>
<text transform="translate(113.30,274.20) scale(1.1024,1)" font-size="15.4" fill="#000">S</text>
<text transform="translate(138.91,277.20) scale(1.1132,1)" font-size="15.4" fill="#000">C0</text>
<text transform="translate(203.33,279.00) scale(1.0936,1)" font-size="15.4" fill="#000">Q</text>
<text transform="translate(219.58,282.40) scale(1.1175,1)" font-size="15.4" fill="#000">S</text>
<text transform="translate(236.18,272.60) scale(1.1175,1)" font-size="15.4" fill="#000">S</text>
<text transform="translate(323.75,60.10) scale(1.0980,1)" font-size="15" font-weight="bold" fill="#000">E18</text>
<text transform="translate(323.55,131.30) scale(1.0961,1)" font-size="15" font-weight="bold" fill="#000">E14</text>
<text transform="translate(323.56,202.20) scale(1.0831,1)" font-size="15" font-weight="bold" fill="#000">E17</text>
<text transform="translate(323.56,273.30) scale(1.0864,1)" font-size="15" font-weight="bold" fill="#000">E16</text>
<text transform="translate(25.55,324.40) scale(1.2013,1)" font-size="14" font-weight="bold" fill="#000">10</text>
<text transform="translate(84.63,324.40) scale(1.1957,1)" font-size="14" font-weight="bold" fill="#000">20</text>
<text transform="translate(142.30,324.40) scale(1.2500,1)" font-size="14" font-weight="bold" fill="#000">30</text>
<text transform="translate(203.26,324.40) scale(1.1489,1)" font-size="14" font-weight="bold" fill="#000">40</text>
<text transform="translate(261.24,324.40) scale(1.1801,1)" font-size="14" font-weight="bold" fill="#000">50</text>
<text transform="translate(319.72,324.40) scale(1.1737,1)" font-size="14" font-weight="bold" fill="#000">60</text>
<text transform="translate(171.61,340.50) scale(1.1483,1)" font-size="17.2" font-weight="bold" fill="#000">2θ(°)</text>
<text transform="translate(410.94,113.40) scale(1.0335,1)" font-size="18.5" font-weight="bold" fill="#000">(b)</text>
<text transform="translate(382.51,308.70) scale(0.8429,1)" font-size="14.5" font-weight="bold" fill="#000">0.0</text>
<text transform="translate(382.52,262.22) scale(0.8287,1)" font-size="14.5" font-weight="bold" fill="#000">0.4</text>
<text transform="translate(382.51,215.74) scale(0.8393,1)" font-size="14.5" font-weight="bold" fill="#000">0.8</text>
<text transform="translate(381.98,169.26) scale(0.8766,1)" font-size="14.5" font-weight="bold" fill="#000">1.2</text>
<text transform="translate(382.00,122.78) scale(0.8651,1)" font-size="14.5" font-weight="bold" fill="#000">1.6</text>
<text transform="translate(434.16,324.50) scale(0.8164,1)" font-size="15.5" font-weight="bold" fill="#000">E16</text>
<text transform="translate(438.68,333.50) scale(0.9328,1)" font-size="14" font-weight="bold" fill="#000">5</text>
<text transform="translate(502.31,324.50) scale(0.8139,1)" font-size="15.5" font-weight="bold" fill="#000">E17</text>
<text transform="translate(504.72,333.50) scale(0.9659,1)" font-size="14" font-weight="bold" fill="#000">10</text>
<text transform="translate(570.21,324.50) scale(0.8114,1)" font-size="15.5" font-weight="bold" fill="#000">E14</text>
<text transform="translate(573.18,333.50) scale(0.9239,1)" font-size="14" font-weight="bold" fill="#000">20</text>
<text transform="translate(638.31,324.50) scale(0.8189,1)" font-size="15.5" font-weight="bold" fill="#000">E18</text>
<text transform="translate(641.28,333.50) scale(0.9239,1)" font-size="14" font-weight="bold" fill="#000">30</text>
<!--XTB-->
<text transform="translate(20.30,158.90) rotate(-90) scale(1.0109,1.1) translate(-58.15,0)" font-size="19.4" font-weight="bold">Intensity(a.u.)</text>
<text transform="translate(378.10,191.50) rotate(-90) scale(0.9974,1.0) translate(-36.42,0)" font-size="13.5" font-weight="bold">CEC(meq/g)</text>
<text transform="translate(461.59,343.8) scale(1.0181,1)" font-size="15" font-weight="bold"><tspan>Dosage of Na</tspan><tspan font-size="9.3" dy="3.2">2</tspan><tspan dy="-3.2">SiO</tspan><tspan font-size="9.3" dy="3.2">3</tspan><tspan dy="-3.2"> (wt.%)</tspan></text>
</svg>
</body></html>
